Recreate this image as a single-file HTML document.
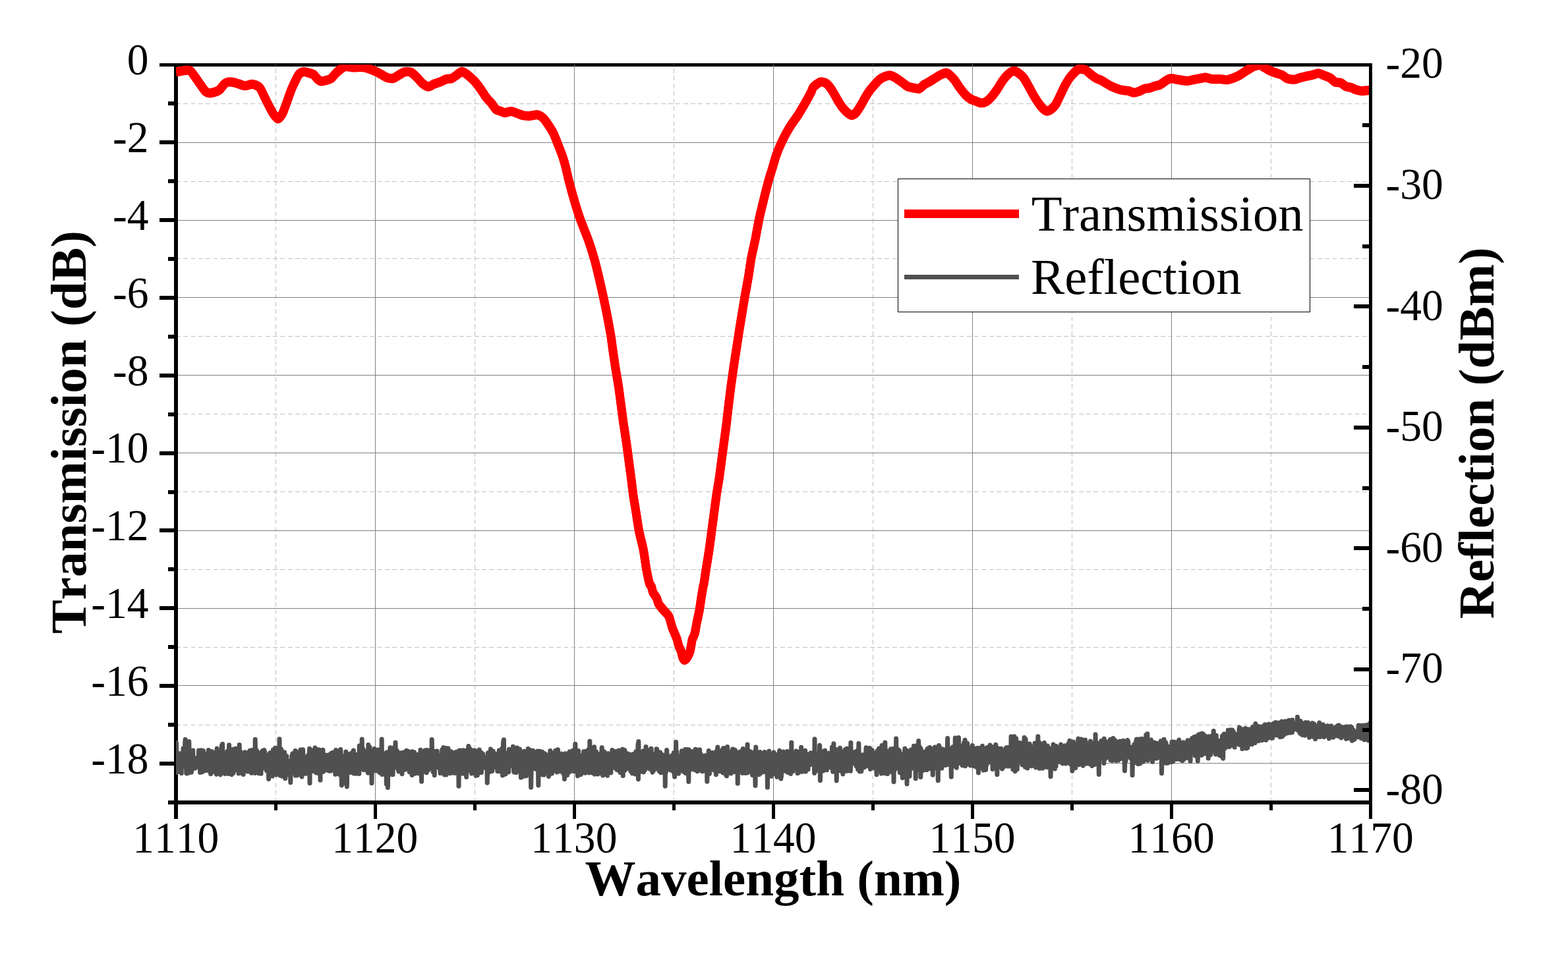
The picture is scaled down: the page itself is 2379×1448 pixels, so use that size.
<!DOCTYPE html>
<html lang="en"><head><meta charset="utf-8"><title>Transmission and Reflection vs Wavelength</title>
<style>html,body{margin:0;padding:0;background:#fff;}body{width:2379px;height:1448px;overflow:hidden;}svg{display:block;}text{font-family:"Liberation Serif","DejaVu Serif",serif;fill:#000;font-kerning:none;}.tk{font-size:66.67px;}.ttl{font-size:77px;font-weight:bold;}.lg{font-size:77px;}</style></head><body>
<svg width="2379" height="1448" viewBox="0 0 2379 1448" role="img" aria-label="Transmission (dB) and Reflection (dBm) versus Wavelength (nm)">
<rect x="0" y="0" width="2379" height="1448" fill="#ffffff"/>
<g fill="#000" shape-rendering="crispEdges">
<rect x="242" y="96" width="1840" height="5"/>
<rect x="264" y="96" width="6" height="1147"/>
<rect x="255" y="1215" width="1827" height="6"/>
<rect x="255" y="154" width="10" height="6"/>
<rect x="242" y="213" width="23" height="6"/>
<rect x="255" y="272" width="10" height="6"/>
<rect x="242" y="331" width="23" height="6"/>
<rect x="255" y="390" width="10" height="6"/>
<rect x="242" y="449" width="23" height="6"/>
<rect x="255" y="508" width="10" height="6"/>
<rect x="242" y="567" width="23" height="6"/>
<rect x="255" y="626" width="10" height="6"/>
<rect x="242" y="685" width="23" height="6"/>
<rect x="255" y="744" width="10" height="6"/>
<rect x="242" y="802" width="23" height="6"/>
<rect x="255" y="861" width="10" height="6"/>
<rect x="242" y="920" width="23" height="6"/>
<rect x="255" y="979" width="10" height="6"/>
<rect x="242" y="1038" width="23" height="6"/>
<rect x="255" y="1097" width="10" height="6"/>
<rect x="242" y="1156" width="23" height="6"/>
<rect x="416" y="1220" width="5" height="10"/>
<rect x="567" y="1220" width="5" height="23"/>
<rect x="718" y="1220" width="5" height="10"/>
<rect x="869" y="1220" width="5" height="23"/>
<rect x="1020" y="1220" width="5" height="10"/>
<rect x="1171" y="1220" width="5" height="23"/>
<rect x="1322" y="1220" width="5" height="10"/>
<rect x="1473" y="1220" width="5" height="23"/>
<rect x="1624" y="1220" width="5" height="10"/>
<rect x="1775" y="1220" width="5" height="23"/>
<rect x="1926" y="1220" width="5" height="10"/>
</g>
<g shape-rendering="crispEdges" fill="none">
<line x1="418.5" y1="98" x2="418.5" y2="1215" stroke="#c0c0c0" stroke-width="1" stroke-dasharray="6.8 4.61" stroke-dashoffset="5.35"/>
<line x1="569.5" y1="98" x2="569.5" y2="1215" stroke="#808080" stroke-width="1"/>
<line x1="720.5" y1="98" x2="720.5" y2="1215" stroke="#c0c0c0" stroke-width="1" stroke-dasharray="6.8 4.61" stroke-dashoffset="5.35"/>
<line x1="871.5" y1="98" x2="871.5" y2="1215" stroke="#808080" stroke-width="1"/>
<line x1="1022.5" y1="98" x2="1022.5" y2="1215" stroke="#c0c0c0" stroke-width="1" stroke-dasharray="6.8 4.61" stroke-dashoffset="5.35"/>
<line x1="1173.5" y1="98" x2="1173.5" y2="1215" stroke="#808080" stroke-width="1"/>
<line x1="1324.5" y1="98" x2="1324.5" y2="1215" stroke="#c0c0c0" stroke-width="1" stroke-dasharray="6.8 4.61" stroke-dashoffset="5.35"/>
<line x1="1475.5" y1="98" x2="1475.5" y2="1215" stroke="#808080" stroke-width="1"/>
<line x1="1626.5" y1="98" x2="1626.5" y2="1215" stroke="#c0c0c0" stroke-width="1" stroke-dasharray="6.8 4.61" stroke-dashoffset="5.35"/>
<line x1="1777.5" y1="98" x2="1777.5" y2="1215" stroke="#808080" stroke-width="1"/>
<line x1="1928.5" y1="98" x2="1928.5" y2="1215" stroke="#c0c0c0" stroke-width="1" stroke-dasharray="6.8 4.61" stroke-dashoffset="5.35"/>
<line x1="270" y1="157.5" x2="2077" y2="157.5" stroke="#c0c0c0" stroke-width="1" stroke-dasharray="6.8 4.52" stroke-dashoffset="3"/>
<line x1="270" y1="216.5" x2="2077" y2="216.5" stroke="#808080" stroke-width="1"/>
<line x1="270" y1="275.5" x2="2077" y2="275.5" stroke="#c0c0c0" stroke-width="1" stroke-dasharray="6.8 4.52" stroke-dashoffset="3"/>
<line x1="270" y1="334.5" x2="2077" y2="334.5" stroke="#808080" stroke-width="1"/>
<line x1="270" y1="392.5" x2="2077" y2="392.5" stroke="#c0c0c0" stroke-width="1" stroke-dasharray="6.8 4.52" stroke-dashoffset="3"/>
<line x1="270" y1="451.5" x2="2077" y2="451.5" stroke="#808080" stroke-width="1"/>
<line x1="270" y1="510.5" x2="2077" y2="510.5" stroke="#c0c0c0" stroke-width="1" stroke-dasharray="6.8 4.52" stroke-dashoffset="3"/>
<line x1="270" y1="569.5" x2="2077" y2="569.5" stroke="#808080" stroke-width="1"/>
<line x1="270" y1="628.5" x2="2077" y2="628.5" stroke="#c0c0c0" stroke-width="1" stroke-dasharray="6.8 4.52" stroke-dashoffset="3"/>
<line x1="270" y1="687.5" x2="2077" y2="687.5" stroke="#808080" stroke-width="1"/>
<line x1="270" y1="746.5" x2="2077" y2="746.5" stroke="#c0c0c0" stroke-width="1" stroke-dasharray="6.8 4.52" stroke-dashoffset="3"/>
<line x1="270" y1="805.5" x2="2077" y2="805.5" stroke="#808080" stroke-width="1"/>
<line x1="270" y1="864.5" x2="2077" y2="864.5" stroke="#c0c0c0" stroke-width="1" stroke-dasharray="6.8 4.52" stroke-dashoffset="3"/>
<line x1="270" y1="923.5" x2="2077" y2="923.5" stroke="#808080" stroke-width="1"/>
<line x1="270" y1="982.5" x2="2077" y2="982.5" stroke="#c0c0c0" stroke-width="1" stroke-dasharray="6.8 4.52" stroke-dashoffset="3"/>
<line x1="270" y1="1040.5" x2="2077" y2="1040.5" stroke="#808080" stroke-width="1"/>
<line x1="270" y1="1100.5" x2="2077" y2="1100.5" stroke="#c0c0c0" stroke-width="1" stroke-dasharray="6.8 4.52" stroke-dashoffset="3"/>
<line x1="270" y1="1158.5" x2="2077" y2="1158.5" stroke="#808080" stroke-width="1"/>
</g>
<svg x="267" y="98" width="1810" height="1120" viewBox="267 98 1810 1120" overflow="hidden"><g fill="none" stroke-linejoin="round" stroke-linecap="butt">
<path d="M267 109.23C268.07 109.04 274.31 107.91 276.16 107.61C278.02 107.31 281.32 106.59 282.9 106.67C284.47 106.75 287.59 106.37 289.63 108.28C291.67 110.2 297.89 119.61 300.4 123.1C302.92 126.59 309.14 136.06 311.18 138.18C313.22 140.3 316.18 141.11 317.91 141.28C319.64 141.45 324.26 140.21 325.99 139.66C327.72 139.11 331 138.03 332.73 136.57C334.46 135.1 339.24 128.55 340.81 127.14C342.38 125.72 344.62 124.7 346.2 124.44C347.77 124.19 352.39 124.64 354.28 124.98C356.16 125.33 360.31 126.79 362.36 127.41C364.4 128.02 369.58 130.17 371.78 130.24C373.98 130.3 379.33 128.07 381.21 127.95C383.1 127.82 386.37 128.47 387.95 129.16C389.52 129.85 393.11 131.75 394.68 133.87C396.25 135.99 399.84 144.2 401.41 147.34C402.99 150.48 406.58 157.82 408.15 160.81C409.72 163.79 413.31 170.65 414.88 172.93C416.45 175.21 420.04 180.34 421.62 180.34C423.19 180.34 426.78 175.84 428.35 172.93C429.92 170.02 433.51 159.66 435.08 155.42C436.66 151.18 440.25 140.49 441.82 136.57C443.39 132.64 447.14 124.58 448.55 121.75C449.97 118.92 452.53 113.82 453.94 112.32C455.35 110.83 458.95 109.14 460.67 108.96C462.4 108.77 467.03 110.24 468.75 110.71C470.48 111.18 473.92 111.87 475.49 113C477.06 114.13 480.81 119.19 482.22 120.4C483.64 121.61 486.04 123.21 487.61 123.37C489.18 123.52 493.96 122.25 495.69 121.75C497.42 121.25 500.85 120.24 502.42 119.06C504 117.88 507.59 113.22 509.16 111.65C510.73 110.08 514.16 106.85 515.89 105.59C517.62 104.33 521.62 101.24 523.97 100.88C526.33 100.51 533.42 102.38 536.09 102.49C538.77 102.6 544.51 101.74 546.87 101.82C549.23 101.9 553.66 102.41 556.3 103.16C558.93 103.92 566.95 107.21 569.43 108.28C571.9 109.35 575.47 111.22 577.51 112.32C579.55 113.42 584.74 116.94 586.94 117.71C589.14 118.48 594.32 119.32 596.36 118.92C598.41 118.53 602.4 115.47 604.44 114.34C606.49 113.21 611.67 109.78 613.87 109.23C616.07 108.68 621.1 108.64 623.3 109.63C625.5 110.62 630.68 115.75 632.73 117.71C634.77 119.67 638.77 124.83 640.81 126.46C642.85 128.1 648.19 131.58 650.24 131.72C652.28 131.86 656.27 128.53 658.32 127.68C660.36 126.83 665.54 125.32 667.74 124.44C669.94 123.56 675.13 120.76 677.17 120.13C679.21 119.51 683.37 119.81 685.25 119.06C687.14 118.3 691.53 114.9 693.33 113.67C695.14 112.44 699.01 108.66 700.74 108.55C702.47 108.44 706.34 111.42 708.15 112.73C709.96 114.03 714.66 118.29 716.23 119.73C717.8 121.18 720.04 123.23 721.62 125.12C723.19 127 727.81 133.22 729.7 135.89C731.58 138.56 735.89 145.55 737.78 148.01C739.66 150.48 744.13 154.92 745.86 157.04C747.59 159.16 751.02 164.84 752.59 166.2C754.16 167.55 757.76 168.04 759.33 168.62C760.9 169.2 764.18 171.13 766.06 171.18C767.95 171.23 773.29 168.91 775.49 169.02C777.69 169.13 782.87 171.41 784.92 172.12C786.96 172.83 790.95 174.63 793 175.08C795.04 175.54 800.38 176.07 802.42 176.03C804.47 175.98 808.93 174.88 810.51 174.68C812.08 174.48 814.32 173.77 815.89 174.28C817.46 174.78 822.09 177.18 823.97 178.99C825.86 180.8 830.17 186.94 832.05 189.76C833.94 192.59 838.41 199.7 840.13 203.23C841.86 206.77 845.3 216.06 846.87 220.07C848.44 224.07 852.23 233.51 853.6 237.58C854.97 241.64 857.49 250.6 858.61 254.92C859.72 259.24 861.58 268.55 863.15 274.6C864.72 280.65 870.01 299.93 872.04 306.78C874.08 313.62 878.2 326.65 880.56 333.27C882.92 339.89 889.87 356.71 892.29 363.55C894.72 370.39 899.48 385.31 901.38 391.94C903.28 398.56 906.94 413.48 908.57 420.33C910.2 427.17 913.95 443.98 915.38 450.61C916.82 457.23 919.52 470.15 920.87 477.1C922.22 484.06 925.93 504.24 926.93 510.22C927.92 516.2 928.61 522.96 929.39 528.39C930.16 533.82 932.51 550.15 933.55 556.78C934.59 563.4 937.29 578.54 938.28 585.16C939.28 591.79 941.18 606.93 942.07 613.55C942.95 620.17 944.9 635.31 945.85 641.94C946.8 648.56 949.25 663.7 950.2 670.33C951.15 676.95 953.11 692.09 953.99 698.71C954.87 705.34 956.98 720.92 957.77 727.1C958.57 733.28 959.94 745.72 960.8 751.7C961.66 757.69 964.12 771.96 965.16 778.39C966.19 784.81 968.39 800.15 969.7 806.78C971 813.4 975.04 828.54 976.32 835.16C977.6 841.79 979.59 857.59 980.67 863.55C981.76 869.51 984.71 883.17 985.59 886.26C986.48 889.35 987.69 888.52 988.29 890C988.88 891.48 989.77 896.88 990.71 898.98C991.65 901.08 995.34 905.86 996.37 907.96C997.4 910.06 998.31 914.84 999.51 916.94C1000.72 919.03 1004.95 923.82 1006.7 925.92C1008.44 928.01 1013.25 932.8 1014.51 934.9C1015.77 936.99 1016.83 941.78 1017.47 943.88C1018.11 945.97 1019.25 950.76 1019.99 952.86C1020.72 954.95 1022.9 959.74 1023.76 961.84C1024.62 963.93 1026.67 968.72 1027.35 970.82C1028.03 972.91 1028.88 977.7 1029.59 979.8C1030.31 981.89 1032.74 986.68 1033.46 988.78C1034.17 990.87 1035.1 996.23 1035.7 997.76C1036.3 999.29 1037.75 1001.89 1038.57 1001.89C1039.4 1001.89 1041.83 999.29 1042.79 997.76C1043.76 996.23 1046.15 990.87 1046.84 988.78C1047.52 986.68 1048.23 981.89 1048.63 979.8C1049.03 977.7 1049.62 972.91 1050.25 970.82C1050.88 968.72 1053.18 964.98 1054.02 961.84C1054.86 958.7 1056.59 948.07 1057.43 943.88C1058.27 939.69 1060.45 930.11 1061.2 925.92C1061.96 921.73 1063.24 912.15 1063.9 907.96C1064.56 903.77 1066.39 892.53 1066.86 890C1067.33 887.47 1067.4 889.35 1067.92 886.26C1068.44 883.17 1070.4 869.51 1071.32 863.55C1072.25 857.59 1074.9 841.79 1075.87 835.16C1076.84 828.54 1078.77 813.4 1079.65 806.78C1080.53 800.15 1082.55 785.01 1083.44 778.39C1084.32 771.76 1086.34 755.98 1087.22 750C1088.1 744.02 1090.12 733.08 1091.01 727.1C1091.89 721.12 1093.91 705.34 1094.79 698.71C1095.67 692.09 1097.69 676.95 1098.58 670.33C1099.46 663.7 1101.54 648.56 1102.36 641.94C1103.18 635.31 1104.78 620.17 1105.58 613.55C1106.37 606.93 1108.29 591.79 1109.17 585.16C1110.06 578.54 1112.18 563.4 1113.15 556.78C1114.12 550.15 1116.49 535.01 1117.5 528.39C1118.52 521.76 1120.91 505.98 1121.85 500C1122.8 494.02 1124.69 482.86 1125.64 477.1C1126.59 471.34 1128.84 457.23 1129.99 450.61C1131.14 443.98 1134.33 427.17 1135.48 420.33C1136.63 413.48 1138.62 398.56 1139.83 391.94C1141.05 385.31 1144.52 370.39 1145.89 363.55C1147.26 356.71 1150.18 339.89 1151.57 333.27C1152.96 326.65 1156.13 313.62 1157.81 306.78C1159.49 299.93 1164.3 280.63 1165.95 274.6C1167.6 268.57 1170.52 259.72 1171.92 255.08C1173.32 250.45 1176.28 239.6 1177.98 234.88C1179.68 230.17 1184.22 219.39 1186.46 214.68C1188.71 209.97 1194.38 199.19 1197.24 194.48C1200.1 189.76 1208.2 178.6 1210.98 174.28C1213.76 169.96 1218.83 161.37 1221.08 157.44C1223.32 153.51 1228.7 143.59 1230.24 140.61C1231.78 137.62 1232.55 133.75 1234.28 131.85C1236 129.95 1242.69 124.86 1245.05 124.31C1247.41 123.76 1252.59 125.87 1254.48 127.14C1256.36 128.41 1259.64 132.94 1261.21 135.22C1262.78 137.5 1266.37 144 1267.95 146.67C1269.52 149.34 1273.11 155.76 1274.68 158.11C1276.25 160.47 1279.84 165.14 1281.41 166.87C1282.99 168.6 1286.89 171.97 1288.15 172.93C1289.41 173.89 1290.93 175.32 1292.19 175.08C1293.45 174.85 1297.35 172.57 1298.92 170.91C1300.49 169.24 1304.09 163.4 1305.66 160.81C1307.23 158.22 1310.82 151.36 1312.39 148.69C1313.96 146.02 1317.55 140.11 1319.12 137.91C1320.7 135.71 1324.13 131.8 1325.86 129.83C1327.59 127.87 1332.05 122.65 1333.94 121.08C1335.82 119.51 1340.13 117.15 1342.02 116.36C1343.91 115.58 1348.22 114.19 1350.1 114.34C1351.99 114.5 1355.98 116.45 1358.18 117.71C1360.38 118.97 1366.76 123.55 1368.96 125.12C1371.16 126.69 1374.99 130.2 1377.04 131.18C1379.08 132.15 1384.42 133.04 1386.46 133.47C1388.51 133.89 1392.66 135.44 1394.55 134.81C1396.43 134.19 1400.74 129.37 1402.63 128.08C1404.51 126.79 1408.98 124.78 1410.71 123.77C1412.44 122.77 1415.56 120.64 1417.44 119.46C1419.33 118.28 1424.75 114.71 1426.87 113.67C1428.99 112.63 1434.09 110.65 1435.62 110.57C1437.15 110.49 1438.55 111.77 1440 113C1441.45 114.22 1446.2 118.72 1448.08 121.08C1449.97 123.43 1454.28 130.61 1456.16 133.2C1458.05 135.79 1462.36 141.34 1464.24 143.3C1466.13 145.26 1470.44 148.86 1472.32 150.03C1474.21 151.21 1478.52 152.68 1480.4 153.4C1482.29 154.12 1486.6 156.15 1488.48 156.23C1490.37 156.31 1494.68 155.19 1496.57 154.07C1498.45 152.96 1502.76 148.79 1504.65 146.67C1506.53 144.55 1510.84 138.64 1512.73 135.89C1514.61 133.14 1518.92 125.72 1520.81 123.1C1522.69 120.47 1526.92 115.19 1528.89 113.4C1530.85 111.61 1535.76 108.06 1537.64 107.74C1539.53 107.43 1543.24 109.5 1545.05 110.71C1546.86 111.92 1551.25 115.65 1553.13 118.11C1555.02 120.58 1559.33 128.52 1561.21 131.85C1563.1 135.18 1567.41 143.52 1569.29 146.67C1571.18 149.81 1575.8 156.64 1577.37 158.79C1578.95 160.94 1581.5 163.97 1582.76 165.12C1584.02 166.26 1586.73 168.54 1588.15 168.62C1589.56 168.7 1593.31 166.94 1594.88 165.79C1596.45 164.64 1600.04 161.18 1601.62 158.79C1603.19 156.4 1606.78 148.54 1608.35 145.32C1609.92 142.1 1613.51 134.16 1615.08 131.18C1616.66 128.19 1620.25 122.01 1621.82 119.73C1623.39 117.45 1626.98 113.3 1628.55 111.65C1630.12 110 1633.87 106.37 1635.29 105.59C1636.7 104.8 1639.26 104.81 1640.67 104.92C1642.09 105.03 1645.68 105.56 1647.41 106.53C1649.14 107.51 1653.6 111.8 1655.49 113.27C1657.37 114.73 1661.68 118 1663.57 119.06C1665.45 120.11 1669.76 121.32 1671.65 122.29C1673.54 123.26 1677.85 126.29 1679.73 127.41C1681.62 128.52 1685.93 130.97 1687.81 131.85C1689.7 132.73 1694.01 134.34 1695.89 134.95C1697.78 135.56 1702.09 136.76 1703.97 137.1C1705.86 137.45 1710.17 137.5 1712.05 137.91C1713.94 138.32 1718.25 140.53 1720.13 140.61C1722.02 140.68 1726.33 139.28 1728.22 138.59C1730.1 137.89 1734.41 135.28 1736.3 134.68C1738.18 134.08 1742.49 133.94 1744.38 133.47C1746.26 133 1750.64 131.19 1752.46 130.64C1754.28 130.09 1757.95 129.79 1760 128.75C1762.05 127.72 1768.05 122.88 1770 121.75C1771.95 120.62 1774.85 119.18 1776.73 119.06C1778.62 118.93 1783.33 120.23 1786.16 120.67C1788.99 121.11 1798.15 122.78 1800.98 122.83C1803.8 122.88 1808.05 121.52 1810.4 121.08C1812.76 120.64 1818.98 119.47 1821.18 119.06C1823.38 118.65 1827.22 117.47 1829.26 117.58C1831.3 117.69 1836.17 119.72 1838.69 120C1841.2 120.28 1848.14 119.86 1850.81 120C1853.48 120.14 1859.07 121.45 1861.58 121.21C1864.1 120.98 1870.16 118.78 1872.36 117.98C1874.56 117.18 1878.24 115.6 1880.44 114.34C1882.64 113.09 1888.7 108.78 1891.21 107.21C1893.73 105.63 1899.63 101.85 1901.99 100.88C1904.34 99.9 1909.53 98.7 1911.41 98.86C1913.3 99.01 1916.42 101.28 1918.15 102.22C1919.88 103.16 1924.19 105.95 1926.23 106.94C1928.27 107.93 1933.46 109.89 1935.66 110.71C1937.86 111.52 1943.04 112.93 1945.08 113.94C1947.13 114.95 1950.97 118.54 1953.16 119.33C1955.36 120.11 1961.74 120.81 1963.94 120.67C1966.14 120.53 1969.98 118.68 1972.02 118.11C1974.06 117.55 1979.25 116.31 1981.45 115.82C1983.65 115.34 1988.68 114.47 1990.88 113.94C1993.08 113.41 1998.26 111.2 2000.3 111.25C2002.35 111.29 2006.34 113.56 2008.38 114.34C2010.43 115.13 2015.77 116.77 2017.81 117.98C2019.85 119.19 2024.01 123.82 2025.89 124.71C2027.78 125.61 2032.09 124.9 2033.97 125.66C2035.86 126.41 2040.17 130.31 2042.05 131.18C2043.94 132.04 2048.25 132.44 2050.13 133.06C2052.02 133.69 2056.33 135.98 2058.22 136.57C2060.1 137.15 2064.1 138 2066.3 138.05C2068.5 138.09 2075.19 137.1 2077.07 136.97C2078.96 136.84 2081.83 136.97 2082.46 136.97" stroke="#ff0000" stroke-width="13" transform="translate(0 -0.6)"/>
<path d="M267 109.23C268.07 109.04 274.31 107.91 276.16 107.61C278.02 107.31 281.32 106.59 282.9 106.67C284.47 106.75 287.59 106.37 289.63 108.28C291.67 110.2 297.89 119.61 300.4 123.1C302.92 126.59 309.14 136.06 311.18 138.18C313.22 140.3 316.18 141.11 317.91 141.28C319.64 141.45 324.26 140.21 325.99 139.66C327.72 139.11 331 138.03 332.73 136.57C334.46 135.1 339.24 128.55 340.81 127.14C342.38 125.72 344.62 124.7 346.2 124.44C347.77 124.19 352.39 124.64 354.28 124.98C356.16 125.33 360.31 126.79 362.36 127.41C364.4 128.02 369.58 130.17 371.78 130.24C373.98 130.3 379.33 128.07 381.21 127.95C383.1 127.82 386.37 128.47 387.95 129.16C389.52 129.85 393.11 131.75 394.68 133.87C396.25 135.99 399.84 144.2 401.41 147.34C402.99 150.48 406.58 157.82 408.15 160.81C409.72 163.79 413.31 170.65 414.88 172.93C416.45 175.21 420.04 180.34 421.62 180.34C423.19 180.34 426.78 175.84 428.35 172.93C429.92 170.02 433.51 159.66 435.08 155.42C436.66 151.18 440.25 140.49 441.82 136.57C443.39 132.64 447.14 124.58 448.55 121.75C449.97 118.92 452.53 113.82 453.94 112.32C455.35 110.83 458.95 109.14 460.67 108.96C462.4 108.77 467.03 110.24 468.75 110.71C470.48 111.18 473.92 111.87 475.49 113C477.06 114.13 480.81 119.19 482.22 120.4C483.64 121.61 486.04 123.21 487.61 123.37C489.18 123.52 493.96 122.25 495.69 121.75C497.42 121.25 500.85 120.24 502.42 119.06C504 117.88 507.59 113.22 509.16 111.65C510.73 110.08 514.16 106.85 515.89 105.59C517.62 104.33 521.62 101.24 523.97 100.88C526.33 100.51 533.42 102.38 536.09 102.49C538.77 102.6 544.51 101.74 546.87 101.82C549.23 101.9 553.66 102.41 556.3 103.16C558.93 103.92 566.95 107.21 569.43 108.28C571.9 109.35 575.47 111.22 577.51 112.32C579.55 113.42 584.74 116.94 586.94 117.71C589.14 118.48 594.32 119.32 596.36 118.92C598.41 118.53 602.4 115.47 604.44 114.34C606.49 113.21 611.67 109.78 613.87 109.23C616.07 108.68 621.1 108.64 623.3 109.63C625.5 110.62 630.68 115.75 632.73 117.71C634.77 119.67 638.77 124.83 640.81 126.46C642.85 128.1 648.19 131.58 650.24 131.72C652.28 131.86 656.27 128.53 658.32 127.68C660.36 126.83 665.54 125.32 667.74 124.44C669.94 123.56 675.13 120.76 677.17 120.13C679.21 119.51 683.37 119.81 685.25 119.06C687.14 118.3 691.53 114.9 693.33 113.67C695.14 112.44 699.01 108.66 700.74 108.55C702.47 108.44 706.34 111.42 708.15 112.73C709.96 114.03 714.66 118.29 716.23 119.73C717.8 121.18 720.04 123.23 721.62 125.12C723.19 127 727.81 133.22 729.7 135.89C731.58 138.56 735.89 145.55 737.78 148.01C739.66 150.48 744.13 154.92 745.86 157.04C747.59 159.16 751.02 164.84 752.59 166.2C754.16 167.55 757.76 168.04 759.33 168.62C760.9 169.2 764.18 171.13 766.06 171.18C767.95 171.23 773.29 168.91 775.49 169.02C777.69 169.13 782.87 171.41 784.92 172.12C786.96 172.83 790.95 174.63 793 175.08C795.04 175.54 800.38 176.07 802.42 176.03C804.47 175.98 808.93 174.88 810.51 174.68C812.08 174.48 814.32 173.77 815.89 174.28C817.46 174.78 822.09 177.18 823.97 178.99C825.86 180.8 830.17 186.94 832.05 189.76C833.94 192.59 838.41 199.7 840.13 203.23C841.86 206.77 845.3 216.06 846.87 220.07C848.44 224.07 852.23 233.51 853.6 237.58C854.97 241.64 857.49 250.6 858.61 254.92C859.72 259.24 861.58 268.55 863.15 274.6C864.72 280.65 870.01 299.93 872.04 306.78C874.08 313.62 878.2 326.65 880.56 333.27C882.92 339.89 889.87 356.71 892.29 363.55C894.72 370.39 899.48 385.31 901.38 391.94C903.28 398.56 906.94 413.48 908.57 420.33C910.2 427.17 913.95 443.98 915.38 450.61C916.82 457.23 919.52 470.15 920.87 477.1C922.22 484.06 925.93 504.24 926.93 510.22C927.92 516.2 928.61 522.96 929.39 528.39C930.16 533.82 932.51 550.15 933.55 556.78C934.59 563.4 937.29 578.54 938.28 585.16C939.28 591.79 941.18 606.93 942.07 613.55C942.95 620.17 944.9 635.31 945.85 641.94C946.8 648.56 949.25 663.7 950.2 670.33C951.15 676.95 953.11 692.09 953.99 698.71C954.87 705.34 956.98 720.92 957.77 727.1C958.57 733.28 959.94 745.72 960.8 751.7C961.66 757.69 964.12 771.96 965.16 778.39C966.19 784.81 968.39 800.15 969.7 806.78C971 813.4 975.04 828.54 976.32 835.16C977.6 841.79 979.59 857.59 980.67 863.55C981.76 869.51 984.71 883.17 985.59 886.26C986.48 889.35 987.69 888.52 988.29 890C988.88 891.48 989.77 896.88 990.71 898.98C991.65 901.08 995.34 905.86 996.37 907.96C997.4 910.06 998.31 914.84 999.51 916.94C1000.72 919.03 1004.95 923.82 1006.7 925.92C1008.44 928.01 1013.25 932.8 1014.51 934.9C1015.77 936.99 1016.83 941.78 1017.47 943.88C1018.11 945.97 1019.25 950.76 1019.99 952.86C1020.72 954.95 1022.9 959.74 1023.76 961.84C1024.62 963.93 1026.67 968.72 1027.35 970.82C1028.03 972.91 1028.88 977.7 1029.59 979.8C1030.31 981.89 1032.74 986.68 1033.46 988.78C1034.17 990.87 1035.1 996.23 1035.7 997.76C1036.3 999.29 1037.75 1001.89 1038.57 1001.89C1039.4 1001.89 1041.83 999.29 1042.79 997.76C1043.76 996.23 1046.15 990.87 1046.84 988.78C1047.52 986.68 1048.23 981.89 1048.63 979.8C1049.03 977.7 1049.62 972.91 1050.25 970.82C1050.88 968.72 1053.18 964.98 1054.02 961.84C1054.86 958.7 1056.59 948.07 1057.43 943.88C1058.27 939.69 1060.45 930.11 1061.2 925.92C1061.96 921.73 1063.24 912.15 1063.9 907.96C1064.56 903.77 1066.39 892.53 1066.86 890C1067.33 887.47 1067.4 889.35 1067.92 886.26C1068.44 883.17 1070.4 869.51 1071.32 863.55C1072.25 857.59 1074.9 841.79 1075.87 835.16C1076.84 828.54 1078.77 813.4 1079.65 806.78C1080.53 800.15 1082.55 785.01 1083.44 778.39C1084.32 771.76 1086.34 755.98 1087.22 750C1088.1 744.02 1090.12 733.08 1091.01 727.1C1091.89 721.12 1093.91 705.34 1094.79 698.71C1095.67 692.09 1097.69 676.95 1098.58 670.33C1099.46 663.7 1101.54 648.56 1102.36 641.94C1103.18 635.31 1104.78 620.17 1105.58 613.55C1106.37 606.93 1108.29 591.79 1109.17 585.16C1110.06 578.54 1112.18 563.4 1113.15 556.78C1114.12 550.15 1116.49 535.01 1117.5 528.39C1118.52 521.76 1120.91 505.98 1121.85 500C1122.8 494.02 1124.69 482.86 1125.64 477.1C1126.59 471.34 1128.84 457.23 1129.99 450.61C1131.14 443.98 1134.33 427.17 1135.48 420.33C1136.63 413.48 1138.62 398.56 1139.83 391.94C1141.05 385.31 1144.52 370.39 1145.89 363.55C1147.26 356.71 1150.18 339.89 1151.57 333.27C1152.96 326.65 1156.13 313.62 1157.81 306.78C1159.49 299.93 1164.3 280.63 1165.95 274.6C1167.6 268.57 1170.52 259.72 1171.92 255.08C1173.32 250.45 1176.28 239.6 1177.98 234.88C1179.68 230.17 1184.22 219.39 1186.46 214.68C1188.71 209.97 1194.38 199.19 1197.24 194.48C1200.1 189.76 1208.2 178.6 1210.98 174.28C1213.76 169.96 1218.83 161.37 1221.08 157.44C1223.32 153.51 1228.7 143.59 1230.24 140.61C1231.78 137.62 1232.55 133.75 1234.28 131.85C1236 129.95 1242.69 124.86 1245.05 124.31C1247.41 123.76 1252.59 125.87 1254.48 127.14C1256.36 128.41 1259.64 132.94 1261.21 135.22C1262.78 137.5 1266.37 144 1267.95 146.67C1269.52 149.34 1273.11 155.76 1274.68 158.11C1276.25 160.47 1279.84 165.14 1281.41 166.87C1282.99 168.6 1286.89 171.97 1288.15 172.93C1289.41 173.89 1290.93 175.32 1292.19 175.08C1293.45 174.85 1297.35 172.57 1298.92 170.91C1300.49 169.24 1304.09 163.4 1305.66 160.81C1307.23 158.22 1310.82 151.36 1312.39 148.69C1313.96 146.02 1317.55 140.11 1319.12 137.91C1320.7 135.71 1324.13 131.8 1325.86 129.83C1327.59 127.87 1332.05 122.65 1333.94 121.08C1335.82 119.51 1340.13 117.15 1342.02 116.36C1343.91 115.58 1348.22 114.19 1350.1 114.34C1351.99 114.5 1355.98 116.45 1358.18 117.71C1360.38 118.97 1366.76 123.55 1368.96 125.12C1371.16 126.69 1374.99 130.2 1377.04 131.18C1379.08 132.15 1384.42 133.04 1386.46 133.47C1388.51 133.89 1392.66 135.44 1394.55 134.81C1396.43 134.19 1400.74 129.37 1402.63 128.08C1404.51 126.79 1408.98 124.78 1410.71 123.77C1412.44 122.77 1415.56 120.64 1417.44 119.46C1419.33 118.28 1424.75 114.71 1426.87 113.67C1428.99 112.63 1434.09 110.65 1435.62 110.57C1437.15 110.49 1438.55 111.77 1440 113C1441.45 114.22 1446.2 118.72 1448.08 121.08C1449.97 123.43 1454.28 130.61 1456.16 133.2C1458.05 135.79 1462.36 141.34 1464.24 143.3C1466.13 145.26 1470.44 148.86 1472.32 150.03C1474.21 151.21 1478.52 152.68 1480.4 153.4C1482.29 154.12 1486.6 156.15 1488.48 156.23C1490.37 156.31 1494.68 155.19 1496.57 154.07C1498.45 152.96 1502.76 148.79 1504.65 146.67C1506.53 144.55 1510.84 138.64 1512.73 135.89C1514.61 133.14 1518.92 125.72 1520.81 123.1C1522.69 120.47 1526.92 115.19 1528.89 113.4C1530.85 111.61 1535.76 108.06 1537.64 107.74C1539.53 107.43 1543.24 109.5 1545.05 110.71C1546.86 111.92 1551.25 115.65 1553.13 118.11C1555.02 120.58 1559.33 128.52 1561.21 131.85C1563.1 135.18 1567.41 143.52 1569.29 146.67C1571.18 149.81 1575.8 156.64 1577.37 158.79C1578.95 160.94 1581.5 163.97 1582.76 165.12C1584.02 166.26 1586.73 168.54 1588.15 168.62C1589.56 168.7 1593.31 166.94 1594.88 165.79C1596.45 164.64 1600.04 161.18 1601.62 158.79C1603.19 156.4 1606.78 148.54 1608.35 145.32C1609.92 142.1 1613.51 134.16 1615.08 131.18C1616.66 128.19 1620.25 122.01 1621.82 119.73C1623.39 117.45 1626.98 113.3 1628.55 111.65C1630.12 110 1633.87 106.37 1635.29 105.59C1636.7 104.8 1639.26 104.81 1640.67 104.92C1642.09 105.03 1645.68 105.56 1647.41 106.53C1649.14 107.51 1653.6 111.8 1655.49 113.27C1657.37 114.73 1661.68 118 1663.57 119.06C1665.45 120.11 1669.76 121.32 1671.65 122.29C1673.54 123.26 1677.85 126.29 1679.73 127.41C1681.62 128.52 1685.93 130.97 1687.81 131.85C1689.7 132.73 1694.01 134.34 1695.89 134.95C1697.78 135.56 1702.09 136.76 1703.97 137.1C1705.86 137.45 1710.17 137.5 1712.05 137.91C1713.94 138.32 1718.25 140.53 1720.13 140.61C1722.02 140.68 1726.33 139.28 1728.22 138.59C1730.1 137.89 1734.41 135.28 1736.3 134.68C1738.18 134.08 1742.49 133.94 1744.38 133.47C1746.26 133 1750.64 131.19 1752.46 130.64C1754.28 130.09 1757.95 129.79 1760 128.75C1762.05 127.72 1768.05 122.88 1770 121.75C1771.95 120.62 1774.85 119.18 1776.73 119.06C1778.62 118.93 1783.33 120.23 1786.16 120.67C1788.99 121.11 1798.15 122.78 1800.98 122.83C1803.8 122.88 1808.05 121.52 1810.4 121.08C1812.76 120.64 1818.98 119.47 1821.18 119.06C1823.38 118.65 1827.22 117.47 1829.26 117.58C1831.3 117.69 1836.17 119.72 1838.69 120C1841.2 120.28 1848.14 119.86 1850.81 120C1853.48 120.14 1859.07 121.45 1861.58 121.21C1864.1 120.98 1870.16 118.78 1872.36 117.98C1874.56 117.18 1878.24 115.6 1880.44 114.34C1882.64 113.09 1888.7 108.78 1891.21 107.21C1893.73 105.63 1899.63 101.85 1901.99 100.88C1904.34 99.9 1909.53 98.7 1911.41 98.86C1913.3 99.01 1916.42 101.28 1918.15 102.22C1919.88 103.16 1924.19 105.95 1926.23 106.94C1928.27 107.93 1933.46 109.89 1935.66 110.71C1937.86 111.52 1943.04 112.93 1945.08 113.94C1947.13 114.95 1950.97 118.54 1953.16 119.33C1955.36 120.11 1961.74 120.81 1963.94 120.67C1966.14 120.53 1969.98 118.68 1972.02 118.11C1974.06 117.55 1979.25 116.31 1981.45 115.82C1983.65 115.34 1988.68 114.47 1990.88 113.94C1993.08 113.41 1998.26 111.2 2000.3 111.25C2002.35 111.29 2006.34 113.56 2008.38 114.34C2010.43 115.13 2015.77 116.77 2017.81 117.98C2019.85 119.19 2024.01 123.82 2025.89 124.71C2027.78 125.61 2032.09 124.9 2033.97 125.66C2035.86 126.41 2040.17 130.31 2042.05 131.18C2043.94 132.04 2048.25 132.44 2050.13 133.06C2052.02 133.69 2056.33 135.98 2058.22 136.57C2060.1 137.15 2064.1 138 2066.3 138.05C2068.5 138.09 2075.19 137.1 2077.07 136.97C2078.96 136.84 2081.83 136.97 2082.46 136.97" stroke="#ff0000" stroke-width="13" transform="translate(0 0.6)"/>
<path d="M266 1161.9l.4 9.1 .4-10.1 .4-7 .4-26.4 .4 45.1 .4-10.8 .4 1.5 .4-4.8 .4-7.3 .4-2.7 .4 15 .4-8.5 .4 4 .4-3.5 .4 9 .4 6.6 .4-27.4 .4 11.2 .4-2.5 .4 2.4 .4 4.3 .4-8.6 .4 23.1 .4-28 .4 6.1 .4-3.9 .4 7.9 .4 1.6 .4 3 .4-24.3 .4 9.2 .4 2.7 .4 15 .4-24.3 .4 16.6 .4-10.2 .4-20 .4-2.6 .4 25.2 .4 16.9 .4-10.4 .4 19.6 .4-24.4 .4 24.7 .4-13.2 .4 1.3 .4 .3 .4-20 .4-14.5 .4 45.3 .4-21.2 .4-26.6 .4 26.6 .4-7.2 .4-4.1 .4 12.2 .4-3.3 .4 16 .4-11.7 .4-5.4 .4 23.8 .4-29.8 .4-2.9 .4 18.1 .4 .5 .4-6.8 .4-12.4 .4 16.5 .4-2.9 .4 3.3 .4 .3 .4 5.8 .4-8.2 .4 12.5 .4-7.2 .4-1.5 .4-3.7 .4 5.4 .4-2.9 .4-5.5 .4 12 .4-10.9 .4 11.8 .4-5.9 .4-3.2 .4-5.4 .4 12.1 .4 .4 .4-22.7 .4 12.3 .4 14 .4-9.7 .4 4 .4 12.7 .4-31.4 .4 11.9 .4-7.8 .4 10.2 .4-16.6 .4 8.4 .4 4.7 .4 16.2 .4 3.8 .4-23 .4 6.5 .4-15.9 .4 19.2 .4 1.8 .4-.3 .4 2.9 .4-15.5 .4-3.5 .4 3.5 .4 7.7 .4 14.3 .4-16.9 .4-3.2 .4 10.6 .4-2.5 .4 6.3 .4 5.4 .4-19.2 .4 18 .4-17.3 .4 10.3 .4-22.6 .4 26.6 .4 4.6 .4-12.7 .4-9.8 .4 18.4 .4 .6 .4-1.8 .4 10.4 .4-28.4 .4 23.4 .4-21.6 .4-7.5 .4 28.9 .4-22.8 .4 7.9 .4 16.8 .4-11.6 .4-14 .4 2.7 .4-5.7 .4 20.9 .4-15.4 .4 7.9 .4-5.4 .4 5.8 .4-4 .4 2.8 .4-3.3 .4 3.3 .4 19.9 .4-36.1 .4-3.1 .4 21 .4 8.4 .4-5.6 .4-1.7 .4-7.9 .4-3.8 .4 8.8 .4-8.9 .4-5.4 .4 8.5 .4-.9 .4 26.4 .4 .8 .4-4.8 .4-16.1 .4 .6 .4-2.8 .4-21 .4 16.9 .4-6.5 .4-12.8 .4 35.3 .4-1.9 .4-14.6 .4 .1 .4 21.9 .4-4.5 .4 7.9 .4-16.5 .4 17.4 .4-24.6 .4 .1 .4 11 .4 1.4 .4-8.5 .4 5 .4-8.6 .4 9.7 .4-19.5 .4 14.7 .4-10.4 .4 2.4 .4 27.4 .4-29.2 .4 6.7 .4-21.3 .4 23.4 .4 1.4 .4-9.4 .4-1.8 .4-1 .4 5.3 .4-11.2 .4 22.7 .4 13.4 .4 2.2 .4-1.8 .4-24.1 .4-9.9 .4 1.3 .4 31.7 .4 .5 .4-32.9 .4 27.8 .4-31.4 .4 23.1 .4-1.2 .4 5.6 .4-7.6 .4 11.8 .4-16.3 .4-16 .4 27 .4-4.4 .4-7.2 .4 6.4 .4-20.9 .4 23.9 .4 7.1 .4-14.1 .4 9.6 .4 10.2 .4-8 .4-18.5 .4-17 .4 36.8 .4-18 .4-9.3 .4 12.6 .4 16.1 .4 4.7 .4-15.3 .4-15 .4 16.3 .4 5.8 .4-9.2 .4 10.3 .4 6.5 .4-19.5 .4 22.2 .4-21.5 .4 8 .4-1.3 .4-9 .4-7.1 .4-2.7 .4 24.6 .4-17.3 .4 10.6 .4 6.5 .4-23.5 .4 22.9 .4-2.9 .4-17.9 .4 16.8 .4 1 .4 8.5 .4-1.3 .4-10.6 .4 8.7 .4-3.2 .4-2.3 .4-19.7 .4-3.2 .4 28.7 .4-14.4 .4 13.7 .4-17.7 .4 13.4 .4-3.3 .4 13.4 .4-11.3 .4-23.6 .4 6 .4 25.3 .4-20.5 .4 4.5 .4-5.3 .4 14 .4-8.6 .4 11.1 .4-16 .4-3.8 .4 28.3 .4-51.2 .4 28.1 .4-2.7 .4 4 .4 9.8 .4-22.7 .4 3.4 .4 19.5 .4 10.9 .4-25.7 .4 5.8 .4-3.4 .4 7.9 .4 16.6 .4-17 .4-9.5 .4 16.9 .4 7 .4-12.5 .4-16 .4 12.3 .4-11.1 .4 30.5 .4-15.5 .4 8.9 .4-6.4 .4-15.5 .4-1.1 .4-5.1 .4 3.5 .4-1.8 .4 23.9 .4-6.4 .4-14.1 .4-6.2 .4 12 .4-10 .4 15.7 .4-6.1 .4-1 .4-3.4 .4 5.8 .4 15.7 .4 2.6 .4-9 .4 5.8 .4-18.1 .4 20.2 .4-14.7 .4 3 .4 .5 .4 24.9 .4-13.8 .4 7.2 .4-13.4 .4-19.3 .4-.3 .4 12.7 .4-1.3 .4-4.8 .4 26.1 .4-28.6 .4 21.9 .4-22 .4 23.9 .4 7.4 .4-27.9 .4 .3 .4-12.6 .4 10.8 .4 1.8 .4-13 .4 4.4 .4 .8 .4 21.3 .4 1.7 .4-30.5 .4 9.9 .4-9.3 .4 26.5 .4 13.6 .4-28.7 .4 10.5 .4 17.5 .4-7.4 .4-.4 .4-21.7 .4 18.5 .4 9.7 .4-15.7 .4 .8 .4-1.4 .4-35.8 .4 44.1 .4-19.8 .4 31 .4-27.4 .4 8.7 .4 5.5 .4-26.6 .4 27 .4 11.8 .4 2 .4-27.2 .4-4 .4 9.6 .4 3.1 .4-1.5 .4-4.9 .4 9.8 .4-4.5 .4-16.7 .4 5 .4 3.1 .4 31.7 .4-5.3 .4-13.4 .4 2.5 .4 1.8 .4-19.8 .4 12 .4-2.7 .4 3.5 .4-5.3 .4 13.7 .4-5.7 .4 5.1 .4 7.5 .4-11 .4-8.9 .4 7.8 .4-.1 .4-2.3 .4-3.2 .4 29.8 .4-27.4 .4 6 .4-2.6 .4 7.5 .4-24.1 .4 1.6 .4 12.7 .4-17.6 .4 11.6 .4-2.7 .4 1.5 .4 1.9 .4 8.3 .4 9.4 .4-3.8 .4-13.6 .4 9.1 .4-25.9 .4 37.6 .4-12 .4-11.4 .4 1.7 .4 .5 .4 21 .4-4.1 .4-15 .4 12 .4-27.8 .4 12.8 .4 7.7 .4 3.8 .4 3.5 .4-24.1 .4 19.4 .4-7.1 .4-13.7 .4 21.8 .4-28.2 .4 38.6 .4-28.1 .4 3 .4 3.7 .4 23.8 .4-26.7 .4 6.4 .4-4.6 .4-16.2 .4 11.7 .4 16.9 .4-13.1 .4 18 .4-18.7 .4 8.3 .4-.1 .4 8.9 .4-5.4 .4-2.4 .4 12.4 .4-21.3 .4 11.1 .4 2.7 .4-10 .4-7.9 .4 23.2 .4-8.1 .4-16.9 .4 14.6 .4-1.1 .4-15.2 .4 22.3 .4-13.1 .4-18.3 .4 52.5 .4-36 .4-8.1 .4 5.8 .4-7.3 .4 15.9 .4-11.1 .4 13.6 .4-2.3 .4 4.2 .4-0 .4-12.7 .4-12 .4 26.6 .4 5.1 .4-24.6 .4 5.3 .4-6.2 .4 4.5 .4-6.5 .4-8.1 .4 10.2 .4 20.3 .4-9.7 .4 17.1 .4-19.7 .4 16.8 .4-30.5 .4 3.3 .4 12.3 .4-17.3 .4 35.7 .4-23.2 .4 21.8 .4-19.6 .4-2.7 .4-11.7 .4 10.5 .4 7.8 .4-5.6 .4 33.4 .4-41.5 .4 17.3 .4 3.1 .4-17.7 .4 13.7 .4-17.9 .4 19.9 .4-14.9 .4 25.5 .4-33.3 .4 18.4 .4-9.2 .4 22.8 .4-18.8 .4 9.3 .4-15.3 .4 8.3 .4-2.5 .4 10.6 .4-10.7 .4-3.2 .4 10.7 .4-7.2 .4-4.9 .4 22.3 .4-19.7 .4 6.6 .4 11.2 .4-18.3 .4 10.9 .4-7 .4-6.8 .4 19.9 .4-1.1 .4 5.7 .4-21.3 .4 15.8 .4 2.1 .4 .1 .4 3.1 .4-26.5 .4 8 .4-3 .4 12.5 .4-12.2 .4 5.7 .4-12.4 .4 10.8 .4 12.4 .4-2.3 .4-17.6 .4 10.3 .4 .6 .4 8.8 .4-19.7 .4 16.8 .4 13 .4-19.5 .4-17.3 .4 34.2 .4-23.1 .4 24.4 .4-11.5 .4-6.2 .4-3.3 .4 20.6 .4-20.4 .4-3.3 .4 10.6 .4-3.7 .4 8.7 .4-16.6 .4 26.8 .4-36.7 .4 11.1 .4 8.4 .4-21.1 .4 28.4 .4-5.8 .4-10.2 .4 42.1 .4-17.9 .4-7.5 .4 23.5 .4-30.5 .4-8.7 .4-2.2 .4 13.4 .4-14.3 .4 19.8 .4 9 .4-15.1 .4-14.3 .4 9.3 .4 3.6 .4 17.7 .4-36.8 .4 11.2 .4 1.8 .4 5.3 .4 34.7 .4-34.8 .4-14.3 .4 5.1 .4 17.1 .4-14.2 .4 15.3 .4-17.4 .4 16.4 .4 3.7 .4-18.2 .4-.5 .4 16.7 .4-24.9 .4 28.6 .4-3.8 .4-5 .4-17.6 .4 5.7 .4 20.3 .4-2.1 .4-28 .4 15.1 .4-4.9 .4 1.5 .4-14.8 .4 11.5 .4 23.7 .4-4.4 .4-12.5 .4-7.4 .4 23.1 .4-15.2 .4 11.9 .4-24.1 .4 20.9 .4 7.8 .4-9.4 .4-.2 .4-12.7 .4 1 .4-.8 .4-3.9 .4 9.9 .4-.3 .4-6 .4 22.7 .4-42.5 .4 5.9 .4 19.3 .4-3.9 .4-3.7 .4 7.6 .4 8.3 .4-4.6 .4 .5 .4 4.1 .4-43.6 .4 34.8 .4-4.7 .4-3.4 .4-11.8 .4 14.6 .4 17.1 .4-25.6 .4 18.9 .4-21.8 .4 15.3 .4-11.9 .4 21.4 .4-5.1 .4-3.2 .4 7.7 .4-20 .4 15.5 .4-6.7 .4 12.8 .4 4.3 .4-21.6 .4-5.6 .4 30.3 .4-42.6 .4 19.5 .4-.9 .4 12.3 .4-8.7 .4-19 .4 18.6 .4 10 .4 2.1 .4-12.5 .4-.9 .4-5.4 .4 2.9 .4 40.1 .4-27.9 .4-5 .4 4.7 .4 2.1 .4-22.8 .4 12.3 .4 3.5 .4-9 .4 14.9 .4-25 .4 20.9 .4 .1 .4 7.8 .4-9.7 .4 14.1 .4-8.2 .4-.9 .4 1.5 .4-4.4 .4-9.5 .4 11.8 .4-15 .4 25.2 .4-8 .4-24.2 .4 30.7 .4-13.4 .4 12.4 .4-21.8 .4 26.8 .4-10.4 .4-12.4 .4-9.9 .4 18.5 .4-19 .4 5.5 .4 16.5 .4-39.4 .4 53.3 .4-17.4 .4-3.9 .4-2.6 .4 8.3 .4-4 .4-8.2 .4 8.4 .4-9.7 .4 28.9 .4-10.6 .4 9 .4-25.8 .4 19.9 .4 3.2 .4-27.5 .4 26.5 .4 20.5 .4-48.4 .4 10.2 .4-4.2 .4 14 .4 33.4 .4-35.8 .4-9.7 .4 12.1 .4-2.8 .4-5.1 .4-11.1 .4 32.8 .4-38.4 .4-2.7 .4 18.5 .4-9.5 .4 1.3 .4-.6 .4-9 .4 23.9 .4 9.6 .4-19.9 .4 17.5 .4 9.2 .4-17 .4-5.4 .4 8.3 .4 2.5 .4-13.2 .4 7 .4-23.9 .4 25.4 .4-12.6 .4-19.8 .4 37.2 .4-4.9 .4 0 .4-7.9 .4 10 .4-22 .4 14.4 .4-7.6 .4-2 .4 24.1 .4-24.3 .4 26.9 .4-28.2 .4 11.4 .4-10.2 .4 15.9 .4-15.6 .4 17.9 .4-8.4 .4 4.8 .4 4.7 .4-.6 .4-6 .4-14.2 .4 32.3 .4-11.9 .4-1.7 .4-9.5 .4 3.3 .4 10.5 .4-21.8 .4 11.8 .4 6.3 .4-13.1 .4-7 .4 17.5 .4 8.9 .4-20.1 .4-2.8 .4 6.3 .4 9.2 .4-21.4 .4 27.2 .4-6.2 .4-10.5 .4 2.1 .4-4 .4-7.5 .4 22.3 .4-10.2 .4-10.3 .4 22.3 .4 7.4 .4-9.6 .4-13.7 .4 3.5 .4 7.8 .4-8.2 .4-5.5 .4 21.3 .4-12.5 .4-9.1 .4 30.7 .4-35.7 .4 15.6 .4-12.2 .4 1.4 .4 3.1 .4 12.3 .4-11 .4-8.2 .4 32.4 .4-17.6 .4 17.5 .4-22.4 .4 2.8 .4 15.4 .4-10.7 .4-9.6 .4 15.6 .4-20 .4 27.7 .4-12.5 .4-8.2 .4 11.3 .4 4.6 .4-10.1 .4 3.8 .4 12.1 .4-15.1 .4-.1 .4 13 .4-25.9 .4 9.4 .4-16.9 .4 5.9 .4 15.2 .4-3.4 .4 30.3 .4-41.9 .4 12.5 .4 15.5 .4-13.7 .4 4.5 .4-19.3 .4 14 .4 3 .4 8.9 .4-16.9 .4 8.3 .4 6.4 .4-28.6 .4 8.2 .4 3.3 .4 18.1 .4-15.3 .4 2.8 .4 16.7 .4-34.4 .4 19 .4 3.3 .4-20.4 .4 3.9 .4-5.3 .4 29.8 .4-12 .4-10.4 .4 2.3 .4 .9 .4 .5 .4-4.3 .4-4.9 .4 19.2 .4 4.7 .4-24.8 .4 2.4 .4 21.7 .4-41.5 .4 18.8 .4 21.3 .4 3.3 .4-18.3 .4 24.3 .4-7.4 .4-14.2 .4-.7 .4-7 .4 34.1 .4-36.1 .4 22.1 .4-8.9 .4 8.1 .4-8.4 .4 1.3 .4 2.3 .4-10 .4 14.5 .4-21.6 .4 15.2 .4 6.9 .4 1.6 .4 1.3 .4-10.2 .4 4.5 .4 .3 .4 4.5 .4-1.7 .4-1.1 .4 1.5 .4 10.7 .4-20 .4 8.5 .4-5.4 .4-10.4 .4 3.4 .4-.4 .4-11.3 .4 35.1 .4-16.2 .4-19.2 .4-1.9 .4-1.2 .4 40 .4-25.7 .4 17 .4 10.1 .4-12.4 .4 .8 .4-15.9 .4-6.1 .4 19.4 .4-26.2 .4 40.4 .4-35 .4 27.6 .4 1 .4-30.9 .4 4.3 .4-1.2 .4-5.7 .4 25.6 .4-14.5 .4 20.1 .4-6.6 .4 1.6 .4-1.1 .4-1 .4 13.6 .4-3.2 .4-10.8 .4-17.7 .4-1.1 .4 18.4 .4 13.7 .4-13 .4-4 .4-3.3 .4-10.1 .4 19.2 .4 8.9 .4-11.7 .4 4.8 .4 9.4 .4-25.4 .4 25.7 .4-15.4 .4 5.9 .4 5 .4-27.3 .4 30 .4-4.8 .4 4.9 .4-30.9 .4 18.6 .4-.9 .4 6 .4 3.7 .4-13.3 .4 2.7 .4 35.6 .4-40.2 .4 4.2 .4-18.3 .4-0 .4 27.1 .4-16.3 .4-9 .4 20 .4-5 .4-3.4 .4 5.2 .4 16.5 .4-21.3 .4 1.1 .4 7.9 .4-23 .4 34.8 .4-20.4 .4 6.7 .4 14.1 .4-16.2 .4 .6 .4 6.4 .4 8.8 .4-.5 .4-33.9 .4 .4 .4 16.6 .4 23.2 .4-25.7 .4-3.2 .4 7.5 .4 12.1 .4-15.8 .4 5.1 .4-7.5 .4-19.3 .4 3.7 .4 7 .4 11.5 .4-.6 .4-18 .4 10.4 .4-7.9 .4 .2 .4 23 .4 3.5 .4-2.7 .4 11.3 .4-35.3 .4 25.7 .4-6.8 .4 2.7 .4-20.7 .4 10.5 .4 22.4 .4-32.5 .4 13.3 .4-7.9 .4-6.3 .4 28 .4-9.7 .4-7.7 .4-9.5 .4 37 .4-17 .4-18.3 .4 5.1 .4 11.6 .4-1.2 .4 19.4 .4-23.9 .4-.6 .4 17.2 .4-1.9 .4-16 .4 19.5 .4-33.1 .4 24.9 .4-10.8 .4 8.1 .4 1 .4-3.9 .4 4 .4-19 .4 30.4 .4-22.7 .4 5.5 .4 1.9 .4-10.6 .4-.1 .4-2.2 .4 12.3 .4 3 .4 2.5 .4-1.9 .4-.1 .4-.3 .4 5.2 .4-4.6 .4-.1 .4-9 .4 10.7 .4-12.5 .4 6.2 .4-4.4 .4 .9 .4 35.9 .4-19.4 .4-10.5 .4-15.7 .4 3.2 .4 16.6 .4-14.7 .4 11.9 .4-6 .4 8.6 .4 9.3 .4-.5 .4-12.7 .4-21.4 .4 21 .4 9.5 .4-11.1 .4-9.8 .4 22.4 .4 1.4 .4-13.9 .4 4.9 .4 .9 .4-22 .4 13.9 .4-9.4 .4 4.8 .4 14.7 .4-10.3 .4 4 .4-.4 .4-13.3 .4 18 .4-.3 .4-.6 .4 1.3 .4-7.8 .4-1.2 .4-4.5 .4 21.2 .4-7.1 .4 3.7 .4-9.9 .4 13.6 .4-18.6 .4-13.1 .4 31.4 .4-23 .4-6.2 .4 20.9 .4-4.3 .4 12.4 .4-18.9 .4 3 .4 2.4 .4 2.2 .4-22.6 .4 27.2 .4 13.4 .4-5 .4-33.2 .4-13.1 .4 21 .4-23.9 .4 53.1 .4-27.1 .4 20.4 .4-7.9 .4-3.1 .4-3.4 .4 20.1 .4-5.2 .4-20 .4 5 .4-6.9 .4 14.8 .4 9.4 .4-23.7 .4-5.5 .4 7.6 .4-.8 .4 22.3 .4-12.2 .4-22.4 .4 .7 .4 22.5 .4 2.1 .4-3.7 .4-13.5 .4 13.8 .4-1 .4-10.5 .4 10.4 .4-5.1 .4-13.3 .4 6.2 .4 11.4 .4-6.4 .4-17.5 .4 18.4 .4 .3 .4 19.4 .4-18.5 .4 19.4 .4-8.5 .4 7.8 .4 .2 .4-12.1 .4-.7 .4 6.1 .4 7.4 .4-10.6 .4-6.6 .4-20.3 .4 26.4 .4-5.6 .4-5.9 .4 1.6 .4 12.7 .4-1.2 .4-14.9 .4-10.8 .4 30.6 .4-30.8 .4 4.3 .4 14 .4 13.6 .4-8.4 .4 19.5 .4-22.6 .4 22 .4-19 .4-11.5 .4-1.8 .4 6.9 .4 7.7 .4-9.4 .4 25.9 .4-13.8 .4-2.6 .4-21.7 .4 15.1 .4 3.9 .4-3.1 .4-6.9 .4 1.6 .4 23.1 .4-25.9 .4 29.8 .4-34.1 .4 11.3 .4-5.5 .4 15.9 .4 7 .4-12.4 .4-23.5 .4 16.7 .4 5.9 .4-10.6 .4 1.1 .4-11.7 .4 23.9 .4 7.1 .4 1.2 .4-13.7 .4 1.3 .4 37.4 .4-22.2 .4-33.6 .4 2.9 .4-.8 .4 3.2 .4 17.7 .4-9.6 .4-13.4 .4 1.6 .4 2.1 .4 9.7 .4-11.4 .4 25.2 .4-13.6 .4 10.4 .4 1.6 .4-8.2 .4 6.6 .4-3 .4 2.5 .4-1.3 .4 6.6 .4-18.2 .4 7.9 .4-9.4 .4-8.3 .4 12.5 .4 39.4 .4-44.9 .4 23.8 .4-29.8 .4 9.8 .4 19.9 .4-30.5 .4 5.3 .4 7.4 .4 15.1 .4-9.7 .4-9.8 .4 20.9 .4-24.2 .4 22.6 .4-26.7 .4 34.7 .4-9.2 .4 5.8 .4-10.7 .4 1.7 .4 12.6 .4-32.6 .4 7 .4 9.1 .4 10.9 .4-25.9 .4 13.6 .4 0 .4 5.2 .4 8.2 .4-24.1 .4 13.8 .4-6.5 .4-4.2 .4 20 .4-8.6 .4-15 .4 4.6 .4 26.9 .4-28.7 .4-4.3 .4 23.6 .4 6.4 .4-18.3 .4-17.8 .4 33 .4-21.3 .4 11.6 .4 10.6 .4-17.7 .4 12.4 .4 5.9 .4-2.3 .4-21.9 .4-1.7 .4 3.3 .4 4.4 .4 5.3 .4-6.3 .4-12.2 .4 9.4 .4-2.2 .4-5.3 .4 17.5 .4-22.6 .4 30.5 .4-15 .4-1.8 .4-3.9 .4-1.3 .4 24.3 .4-6.2 .4-13.4 .4-14.7 .4 20.5 .4-7.8 .4 15.8 .4-15.9 .4 17.4 .4-20.6 .4 16.1 .4-16.9 .4 9.8 .4-8 .4 17.2 .4 5.5 .4-26.8 .4 14.8 .4-7.7 .4 2 .4 13.4 .4 2.4 .4-4.2 .4-6.9 .4 16.3 .4-22.5 .4 16.5 .4-22.9 .4 37.2 .4-6.9 .4-10 .4-21.9 .4 12.6 .4-.5 .4-.6 .4 .7 .4 8.2 .4-7 .4-3 .4 22.3 .4-21.2 .4-2.4 .4 2.9 .4 6.8 .4 8.9 .4-15.6 .4-13.7 .4 29.6 .4-30.9 .4 5.5 .4-1.3 .4 18 .4-6.3 .4-8.3 .4 .5 .4 13.2 .4-18.1 .4 15.7 .4 4.2 .4-3.1 .4-21.5 .4 15.1 .4 16.1 .4-24 .4 19.2 .4-23.6 .4 11.4 .4 7.7 .4-11.2 .4-20.7 .4 28.8 .4 3.6 .4-9.7 .4-3.8 .4 23.6 .4-8 .4-15.9 .4 9.2 .4 20.7 .4-30.6 .4 1.8 .4-9.6 .4 19 .4-7.3 .4-4.7 .4 26.2 .4-17 .4 1.2 .4 13.9 .4 5.1 .4-15.7 .4-3.6 .4 18 .4-27.1 .4 24.1 .4-19.1 .4-4.2 .4 18.8 .4-21.1 .4 10.3 .4 2.7 .4-18.1 .4 5.5 .4 9.4 .4-15.2 .4 18.2 .4-13.9 .4 28.4 .4-26.2 .4-4.5 .4 12.1 .4 4.3 .4 .5 .4-10.7 .4-3.2 .4 11.8 .4 12.8 .4-31.3 .4 20.3 .4 3.3 .4 7.7 .4-33.3 .4 36.1 .4-1.4 .4-46.6 .4 32.8 .4-6.7 .4 0 .4 11.3 .4 10.3 .4-17.6 .4 3.9 .4 2.8 .4-.1 .4 11.3 .4 .3 .4-19.3 .4 4.8 .4-20.6 .4 23 .4-.6 .4-26.7 .4 21.2 .4 20.1 .4-18.5 .4 .6 .4-11.9 .4 10.6 .4-15.1 .4 14.6 .4-6.6 .4 16 .4 2.3 .4-14.2 .4-8.6 .4 30.7 .4-25 .4 10 .4-1.6 .4 13.6 .4-8.8 .4-5.6 .4-9.8 .4 9.7 .4-5.5 .4-1.2 .4-1.1 .4 4.5 .4-5 .4-7.8 .4-6.6 .4 29.2 .4 11.7 .4-24 .4 25.2 .4-34.9 .4 21.6 .4-21.5 .4 8.1 .4-9.1 .4 27.2 .4-10 .4 3.9 .4 3.3 .4 4.7 .4-14.7 .4-.1 .4-7.6 .4 13 .4-9.4 .4 15 .4 10.8 .4-24.6 .4-6.7 .4-2.3 .4 12 .4-3.7 .4 10.6 .4-12.1 .4 5.1 .4 6.7 .4 10.3 .4-24.1 .4-1.2 .4 25.8 .4-16.4 .4-4.1 .4-.1 .4-4.7 .4-9.3 .4 27 .4-2.4 .4-11.4 .4 8.7 .4-15.5 .4 8.8 .4 3.7 .4 2 .4-1.1 .4-11.1 .4 .6 .4 17.9 .4-25.1 .4 10.3 .4 5.6 .4 4.8 .4-8.6 .4 15.9 .4-11.9 .4 1.3 .4 6.5 .4-8.2 .4-7.1 .4 13.7 .4-23.9 .4 25.5 .4 1.7 .4-17.2 .4 8 .4 15.5 .4-14 .4-2.3 .4 7.7 .4 .6 .4-18.2 .4-5.4 .4 12.1 .4 9.5 .4-25.2 .4 12.3 .4 27.9 .4-17.6 .4-9.3 .4 9.3 .4-12.4 .4 12.6 .4-21.5 .4 30.7 .4-7.1 .4-12.3 .4-7.7 .4 12.5 .4-1.3 .4 4.5 .4-2.6 .4-3.6 .4 14.9 .4-8.9 .4-.5 .4 3.5 .4 .4 .4-16.7 .4 11.8 .4-5.3 .4 8.5 .4-.8 .4-9.7 .4 7.7 .4-2.6 .4 16.5 .4-5.2 .4-1.1 .4-1.6 .4-11.2 .4 4.3 .4 18.2 .4-12.8 .4-16.2 .4 6.8 .4 .5 .4 13.5 .4-2 .4 2.9 .4-12.5 .4-3.5 .4-2.2 .4 26.6 .4-22.3 .4 3.1 .4-14.9 .4 18.6 .4-13.9 .4 20.6 .4-21.9 .4 9.8 .4 6.9 .4-13.7 .4-17.6 .4 53.1 .4-57.1 .4 20.5 .4 4.4 .4 21.6 .4-17.1 .4 7.4 .4-20.5 .4 13.5 .4 11.4 .4-19.9 .4-.4 .4 18.7 .4-13.1 .4-4.8 .4-2.8 .4 12.4 .4-9.4 .4 .2 .4-7.6 .4 31.9 .4-26.4 .4 16.7 .4-7 .4-14.8 .4 28.5 .4-12 .4 7.5 .4-14.3 .4-16.7 .4 5.7 .4 25.6 .4-9.9 .4 .7 .4-9.1 .4 7.2 .4 6.7 .4-17.8 .4 13.9 .4-3.5 .4 12.8 .4-26.6 .4 18.1 .4-16.4 .4 26.3 .4-18.4 .4 3.2 .4-14.5 .4 11.1 .4-12.3 .4 20.7 .4-3.4 .4 5 .4 12.5 .4 1.2 .4-21.7 .4-6.2 .4 26 .4-6.6 .4-6.6 .4-12.7 .4 18.9 .4-1.8 .4 .6 .4-12.5 .4 6.4 .4 2.8 .4-10.3 .4 9.4 .4-21.3 .4 30.4 .4-29.6 .4 10.7 .4 4.5 .4 9.2 .4-10.7 .4 6 .4-10 .4 11.5 .4-8 .4 20 .4-6.9 .4-18.2 .4-3.7 .4 15.3 .4 15.5 .4-9.4 .4 .2 .4-10.8 .4 11.1 .4 8.8 .4-27 .4 10.5 .4 5.1 .4 7 .4-12.5 .4 11.3 .4-.2 .4-17.9 .4 6.8 .4 11.4 .4-15.4 .4 41.6 .4-44 .4 11 .4 11.7 .4-16.1 .4-3.8 .4-13.6 .4 8 .4 21.4 .4-6.2 .4-11.8 .4 15.3 .4-16.1 .4 10.8 .4-10.5 .4 4 .4 9 .4-11.2 .4 9.1 .4-2.9 .4 3 .4-12.5 .4 21.2 .4-9.1 .4-11.1 .4 10.3 .4-5 .4-7.7 .4 3.3 .4 3.9 .4 11.8 .4-2.4 .4 8.4 .4-29.1 .4 8.7 .4 24.2 .4 3.8 .4-23.7 .4 2.2 .4-10.9 .4 6.6 .4-27.1 .4 31.6 .4-17.7 .4 1.1 .4 11.7 .4 11.8 .4-2.7 .4 7.5 .4-1.4 .4-14.8 .4 20.9 .4-26.4 .4 5 .4 0 .4 10 .4-7.2 .4 2.4 .4-6 .4 8.5 .4-9.5 .4 18.1 .4-9.1 .4-20.2 .4 11.8 .4 .9 .4 4.9 .4 13.1 .4-8.5 .4 9.2 .4-6.2 .4-6.4 .4-.9 .4-7.1 .4 6.9 .4-15.9 .4-4.2 .4 36 .4-2 .4-1.5 .4-8.9 .4-6.2 .4-16.3 .4 26.7 .4-27.8 .4 22.2 .4 13.3 .4-7.1 .4-5.5 .4 26.1 .4-48.4 .4 5.9 .4 17.8 .4-3.9 .4 10.7 .4-22.7 .4 21.4 .4-10.6 .4 9 .4-25.2 .4 23.7 .4 2.3 .4-10.9 .4 8.6 .4-21.6 .4 12.8 .4-1.3 .4 7.2 .4 6.5 .4-23.9 .4 16 .4 8.6 .4-4.1 .4-25.6 .4 14.4 .4-15.9 .4 31.1 .4-20.2 .4 2.6 .4 2.9 .4-5 .4 14.7 .4 7.4 .4-12.8 .4-1.5 .4 1.6 .4-3.6 .4 4.9 .4-9.9 .4-11.3 .4 30.8 .4-30.9 .4 11.7 .4 8 .4-8.4 .4-5 .4 1.1 .4 4.1 .4 8.1 .4 7.9 .4-2.5 .4 7.8 .4-18.8 .4 1 .4 8.2 .4-3.8 .4 8.3 .4-16.8 .4 11.5 .4 2 .4-1.7 .4 .4 .4-14.4 .4 11.1 .4-1.6 .4 14.3 .4-1.3 .4 2 .4-13.2 .4 28.2 .4-22.7 .4-3.8 .4-3.3 .4 8.9 .4-16.6 .4-9.1 .4 16 .4 14.9 .4 4 .4-20.6 .4 5.9 .4-8.9 .4 12.2 .4-1.8 .4-7.1 .4 11.9 .4-14.8 .4 11.5 .4-19.8 .4-.7 .4 18.2 .4 3.9 .4 2.6 .4-19.8 .4 19.3 .4 2.5 .4-15 .4-3.4 .4-.4 .4-3.4 .4-2.7 .4 21.9 .4-24.1 .4 33.8 .4-16 .4-19.9 .4 10.7 .4 15.9 .4-3.7 .4-28.7 .4 14 .4 15.3 .4-13.2 .4 13.9 .4-12.4 .4-7.9 .4 8.5 .4 18.4 .4-11.5 .4-3.6 .4-13.5 .4 21.3 .4-15.8 .4-7.9 .4 24.4 .4-7.2 .4 6.7 .4 3.7 .4-16.7 .4 22.4 .4-36.8 .4 21.9 .4-22.6 .4 11.9 .4 5.7 .4-11.2 .4 19.5 .4-15.9 .4 24.5 .4-6.4 .4 12.1 .4-31.9 .4-6.2 .4 40.3 .4-13.2 .4-.1 .4-31 .4 20.7 .4-4.6 .4-6.1 .4 10 .4-9.3 .4 6.9 .4 .5 .4-2 .4 7.3 .4 11.2 .4-11.3 .4-13 .4 30.1 .4-33.2 .4 4.7 .4 15.8 .4-6.9 .4 2 .4 2.4 .4-21.8 .4 7.5 .4 22 .4-8.9 .4 .1 .4 14 .4-18.6 .4-6 .4-8.8 .4 22.9 .4-22.3 .4 14.1 .4-11.7 .4 8 .4 2.1 .4 2.5 .4-6.3 .4 3.2 .4 5 .4 33.4 .4-34 .4 3.1 .4-.6 .4 3.6 .4 6.3 .4-12 .4-2 .4-5.9 .4-6.5 .4 23.1 .4 3.6 .4 .3 .4-20.8 .4 1.5 .4 22.3 .4-15.3 .4 .7 .4 17 .4-31.1 .4-5.8 .4 15 .4 16.6 .4-7.6 .4-4.3 .4-5.1 .4-.4 .4-4.4 .4 .7 .4-.2 .4 26.6 .4-15.2 .4-6.5 .4-13 .4 30.6 .4-11.2 .4 .5 .4-28.7 .4 42.8 .4-.2 .4-26 .4 17.3 .4-20.6 .4 25.4 .4-26.9 .4 14.2 .4 1 .4-16.5 .4 2.5 .4 13.3 .4-6.6 .4 2.2 .4 7.1 .4-1.4 .4-9.6 .4 1.7 .4 26.8 .4-15.1 .4-2.5 .4-4.2 .4-11.5 .4 15.3 .4 13.2 .4-29.6 .4-1.3 .4 11.5 .4 17.6 .4 22.5 .4-45 .4-13.3 .4 38.1 .4-15.8 .4 .5 .4-6.3 .4 13 .4 .5 .4-7.8 .4 4.2 .4-7.5 .4-7.7 .4 .9 .4 29.4 .4-17.3 .4 2.7 .4 4.2 .4-23.8 .4 32.6 .4-21.2 .4 6.8 .4-12.3 .4-1.9 .4 4.8 .4 4.5 .4 14.1 .4-22.3 .4 14.6 .4-4.2 .4 .1 .4 14.8 .4-27 .4 18.1 .4-10 .4-11.3 .4 4.2 .4 5.5 .4-6.4 .4 11.9 .4 2.1 .4-10.8 .4 6.3 .4 3.8 .4-6.2 .4 4.4 .4 38.7 .4-41.1 .4-5 .4 25.2 .4-14.9 .4 8.8 .4-28.1 .4 4.7 .4 32.9 .4-14.1 .4-17 .4 23.3 .4-6.4 .4-11.6 .4 9.8 .4 16.6 .4-20.7 .4-6.1 .4 15.5 .4-17.6 .4 19.2 .4 4.8 .4-21.7 .4 5.2 .4-14.7 .4 2.4 .4 15.4 .4 2.8 .4-11.8 .4 5.9 .4 18 .4-26.7 .4 7 .4 18.4 .4-8.4 .4-15.8 .4 29.9 .4-14.9 .4-1.2 .4-10.4 .4 13.5 .4-5 .4-17.2 .4 10.4 .4 10.6 .4-22.2 .4-3.6 .4 2.5 .4 15 .4-11.9 .4 22.8 .4 14.4 .4-28.1 .4 24 .4-23.2 .4 .2 .4 7.4 .4-.9 .4-1.4 .4-15.8 .4-3.2 .4 7.1 .4 3.6 .4-.7 .4 19 .4-12.7 .4-7.2 .4-.4 .4 7.1 .4-12.7 .4 19.8 .4-11.3 .4-1 .4-4.3 .4 12.3 .4-19.1 .4 31.8 .4-13.5 .4-15.7 .4 15.1 .4 8.3 .4-11 .4 17 .4-25 .4 .8 .4-2.8 .4 15.6 .4-4.1 .4 17.4 .4-28.1 .4 12.8 .4-32.1 .4 43.2 .4-18.7 .4 1.1 .4 8.1 .4 10.1 .4-24.3 .4 5 .4 4 .4 10 .4-16.6 .4 4.7 .4 12.6 .4-13 .4-1.2 .4 1.7 .4 5.7 .4-8.7 .4-10.6 .4 13 .4-3.8 .4 2.4 .4-10.3 .4 32.3 .4-10.1 .4-13.3 .4 22.5 .4-11.2 .4-20.4 .4 10.6 .4 6.4 .4-.3 .4-6.1 .4 2.8 .4 7.4 .4 .7 .4-9.5 .4-18.9 .4 20.4 .4 16.6 .4-10.5 .4-15.4 .4 15.8 .4-6.9 .4 1.8 .4 12.9 .4-5.1 .4-11.6 .4-.3 .4 18.6 .4-19.6 .4 11.4 .4-23.1 .4 6.2 .4 25.7 .4-8.6 .4-4.6 .4 3.9 .4-16.5 .4 7.5 .4 13.3 .4-8.3 .4-12.6 .4 22.5 .4-9.2 .4-12.9 .4 13 .4-2 .4 2.7 .4-8.7 .4-4.2 .4 .6 .4 6.1 .4-10.4 .4 15.1 .4 .8 .4-.6 .4 2.2 .4-9.5 .4-2.7 .4 3.1 .4-2.4 .4-3.1 .4 6.3 .4-.6 .4-4.4 .4 7.1 .4 19.4 .4-51.7 .4 43.7 .4-20.9 .4 2.2 .4 5.4 .4-1.2 .4 18.9 .4-23.9 .4 5.5 .4 5.4 .4 5.1 .4-2.6 .4-3.8 .4 9.7 .4-14.5 .4 14.8 .4-20.2 .4 15 .4-14.4 .4-14.8 .4 17.2 .4 36.2 .4-30.9 .4 6.8 .4-16.2 .4 13.2 .4 12.1 .4-7.2 .4-10.5 .4 3.8 .4-14.8 .4 3.8 .4 25.2 .4-29.4 .4 24.5 .4 .2 .4-9.8 .4-.1 .4 4.2 .4-20.3 .4 7.7 .4 5.9 .4-2.6 .4 1.7 .4 5.9 .4 3 .4 7.9 .4-20.5 .4 15.8 .4-18.2 .4 14.7 .4-12.8 .4-4.4 .4 17.1 .4-8.1 .4-1.4 .4 3.1 .4 8.5 .4-15.7 .4 4.3 .4-1.2 .4 15.1 .4-20.2 .4 18.8 .4-5.4 .4-4.7 .4-19.4 .4 1.2 .4 15.3 .4 20.6 .4-35.6 .4 19.6 .4-26.5 .4 37 .4-4.6 .4-2.7 .4-11 .4 12.2 .4 4.4 .4-8 .4-18.8 .4 10.5 .4-.5 .4 37.7 .4-22.4 .4-22.2 .4 15.9 .4-10 .4 3 .4 20.1 .4-28.1 .4 9.1 .4-.2 .4 19.1 .4-23.4 .4 3.1 .4-13.7 .4 25.1 .4-21.9 .4 31.5 .4-19.5 .4-3.9 .4 7.2 .4-4.6 .4-7.1 .4 20.2 .4-9.6 .4 22.3 .4-16.5 .4-12.7 .4 17.7 .4-.1 .4-9 .4-3.4 .4-3.3 .4 16.5 .4-26.3 .4 8.4 .4 24.2 .4-13.1 .4-3.1 .4-.4 .4-17.5 .4 2.9 .4 30.9 .4-21.8 .4 19.4 .4-15.7 .4-8.9 .4 13.3 .4-15.8 .4 5.3 .4 14.5 .4-7.5 .4 7.2 .4-18.7 .4 28.9 .4-43.1 .4 29.6 .4 3.3 .4-.2 .4-4 .4-4 .4 3.6 .4-5.1 .4 3.4 .4-2.9 .4-.2 .4-2.8 .4 1.2 .4-7.4 .4 2.9 .4 3.2 .4 6.1 .4 .7 .4-13.5 .4 11.9 .4 9.4 .4-16.7 .4 4.4 .4 12.1 .4-19.2 .4 21.8 .4-25.8 .4 29 .4-22.5 .4 12.8 .4-29.7 .4 18.7 .4 16.3 .4 .9 .4 6.5 .4-14.5 .4-4.8 .4-3.4 .4 3.1 .4 12.9 .4 6.4 .4-20.1 .4 15.9 .4-9.7 .4-1.1 .4-10 .4 9.5 .4-6 .4 8.9 .4-3.4 .4-2.5 .4 8.2 .4 4.2 .4-8.4 .4-1.8 .4 1.8 .4 4.7 .4-14.1 .4-12.1 .4 16.7 .4-4.1 .4 14.2 .4-26 .4 22.7 .4-10.5 .4 9.4 .4 5.6 .4-1.2 .4-25 .4 8.8 .4 9.6 .4 2.5 .4-22 .4 19.3 .4 12.8 .4-13 .4 1.6 .4-5.7 .4 11.8 .4-12.2 .4-2.6 .4-8.7 .4 25.6 .4-11 .4-3.5 .4 15.5 .4-15.4 .4 5.9 .4-.9 .4 2 .4-11.8 .4 6.1 .4-8 .4 14.7 .4 5.3 .4-10.7 .4-9.4 .4 20.6 .4 12 .4-14.3 .4-21.4 .4 1.3 .4 14.8 .4-17 .4 1.9 .4 2.3 .4 22 .4-29.2 .4 20.2 .4 .1 .4 7.6 .4-21.7 .4 11.4 .4 15.6 .4-23.2 .4 18.4 .4 9.6 .4-29.5 .4-13 .4 23.4 .4 7.9 .4 .7 .4-1.4 .4 1.3 .4-27.5 .4-2.4 .4 17.8 .4 2.5 .4-12.9 .4 32.8 .4-46.9 .4 21.4 .4-6.1 .4 19.3 .4-5.8 .4-5 .4 .3 .4 19.7 .4-25.2 .4 29.1 .4-20.4 .4-4.4 .4 1.8 .4-11.7 .4 13.3 .4-11.3 .4 16.8 .4 9.1 .4-20.5 .4 20.8 .4-15.5 .4-9.6 .4-6.2 .4 2.4 .4 32.6 .4-9.6 .4-9.8 .4-12.9 .4 22.7 .4-.1 .4-9.6 .4-15.9 .4 19.9 .4 30.2 .4-50.5 .4 33.3 .4-3.1 .4 1.3 .4-24 .4 7.4 .4-13.5 .4 27.2 .4-43.8 .4 30.6 .4-5.7 .4-3.1 .4 .7 .4-5.8 .4 22.7 .4-23 .4 29.1 .4-8.5 .4-6.2 .4-7.9 .4-4.5 .4 15.7 .4 17.6 .4-.2 .4-28.6 .4 19.2 .4-1.5 .4-7.4 .4-3.2 .4 16.4 .4-.4 .4-6.2 .4 20 .4-34.2 .4 .8 .4 10.6 .4 2.2 .4-11.3 .4 8.8 .4-5.9 .4-9.8 .4-5.7 .4 23.1 .4 .9 .4-22.4 .4 21.3 .4-3 .4 .8 .4-6.5 .4 39.4 .4-46 .4 .3 .4 14.2 .4 9.2 .4-4.1 .4-12.8 .4 18.2 .4-20.6 .4-8.6 .4 38.5 .4-24.4 .4-2.5 .4-4.7 .4 5.9 .4 3.3 .4-17.7 .4 2.9 .4 24.7 .4 .4 .4-22 .4 18.8 .4-8.5 .4 11.5 .4-14.1 .4 10.8 .4-30.4 .4 10.4 .4 17.1 .4-3.1 .4-8.7 .4 3.4 .4-9.6 .4 39.9 .4-49.6 .4 27.2 .4-14.8 .4-.6 .4 15.8 .4 9.2 .4-5.8 .4-9.2 .4-19.4 .4 26.2 .4-36 .4 32.4 .4 6.6 .4-12.7 .4-17.4 .4 3.8 .4 6.6 .4-.2 .4 35.8 .4-43 .4 6.5 .4 13.6 .4-3.7 .4-3.5 .4 12.2 .4 3.5 .4-9.6 .4 14 .4-8.1 .4-1.3 .4-3.3 .4-15.2 .4 4.1 .4 2.8 .4 13.5 .4-15.9 .4 9.7 .4-7 .4 16.5 .4-22.9 .4-2.9 .4 29.1 .4-29.9 .4-1.8 .4 21.1 .4-10.2 .4 15.3 .4-14.6 .4-13.1 .4 31.2 .4-21.2 .4 6.8 .4-5.6 .4-12 .4 31.7 .4-30.9 .4 21.5 .4-17.5 .4 8.6 .4 10.8 .4-16.8 .4 17.2 .4-5 .4 1 .4 21.1 .4-22.3 .4-.9 .4 6.4 .4 5.6 .4-1.4 .4-5.1 .4-11.7 .4-13 .4 23.2 .4-14.9 .4 17.1 .4-12.4 .4 12.3 .4-1.8 .4-6.7 .4 3.7 .4-8.1 .4 21.5 .4-7.8 .4 24.7 .4-32.1 .4 2.5 .4-23.5 .4 33.5 .4-31.7 .4 3.6 .4 7.8 .4-8.7 .4 29.6 .4-1.9 .4-21.8 .4 22.4 .4-21.2 .4 22.9 .4-15.2 .4-14 .4 7.5 .4-1.7 .4-5.1 .4 16.9 .4-1.4 .4-4.3 .4-.7 .4-3.8 .4 9.8 .4-16 .4-.2 .4 23.6 .4-16.2 .4 6.1 .4-12.3 .4-.8 .4 16.7 .4 5.6 .4-7.7 .4-32.5 .4 21.4 .4 11 .4-1.8 .4-7.5 .4 7.3 .4-12.7 .4 21.4 .4 1.1 .4-.9 .4-9.4 .4-10.8 .4 21.7 .4-5.9 .4 23.8 .4-42.8 .4 10.8 .4 1.2 .4-7.7 .4 9.2 .4-16 .4 23.5 .4-11.6 .4 6.6 .4-10.9 .4 14.6 .4-9.5 .4 16.5 .4-8.7 .4-34.3 .4 26.6 .4-6.8 .4 20.9 .4-27.7 .4 32.3 .4-12.5 .4-6.5 .4-4.1 .4 14.5 .4-4.9 .4-.6 .4-.7 .4-30.9 .4 30.6 .4-9.2 .4 .4 .4 16.8 .4-.6 .4-4.7 .4-7.9 .4 9.2 .4-18.8 .4 9.5 .4 10.5 .4-3.2 .4-10.8 .4 20.4 .4-21.7 .4-8.6 .4 9.1 .4 20.9 .4-18.2 .4-15.6 .4 19.3 .4-11.8 .4-7.6 .4-4.4 .4 39.6 .4-6.9 .4-16.3 .4 11.9 .4 2.7 .4-5.3 .4 4.5 .4-6.9 .4-18.2 .4 28.3 .4-2.6 .4-16.4 .4 9.8 .4-3.2 .4-3.3 .4 19.2 .4-1.5 .4-8.9 .4-3.2 .4-3.7 .4 19 .4-16.7 .4 10.2 .4-19.8 .4 8 .4-2.2 .4 10.4 .4-20.3 .4 30.1 .4-22 .4 16.4 .4-20.6 .4 14.2 .4 13.3 .4-12 .4-.2 .4-.8 .4-0 .4-8 .4 3.9 .4 2.2 .4 6.3 .4-7.9 .4 18.2 .4-6 .4-23 .4 5.4 .4 18.8 .4-11.3 .4-.4 .4 25 .4-37.4 .4 12.8 .4-4.9 .4 3.7 .4-9.5 .4-.9 .4 17.2 .4 0 .4-9.1 .4 9.8 .4 10.6 .4-20.3 .4 1.8 .4-10.1 .4-4.5 .4 8.6 .4-6 .4 31.6 .4 2.6 .4-12.6 .4 3.6 .4-3.2 .4-9 .4-.3 .4 13.2 .4-5.6 .4-8.8 .4 22.2 .4-26.7 .4-5.8 .4 25.2 .4-15 .4-.8 .4-10.8 .4 22.9 .4-21.9 .4 10 .4-11.3 .4 9.2 .4-.3 .4 13.7 .4-9 .4-2.6 .4-14.2 .4 16.5 .4 2.9 .4-13.2 .4 11 .4-11.8 .4-.1 .4 6.7 .4 7.1 .4-9.5 .4 26.7 .4-14.1 .4-4.9 .4-6.2 .4 8.1 .4-16.9 .4 10.7 .4-1.5 .4 21.4 .4-22.5 .4 1.1 .4-10.1 .4-2.1 .4 29.1 .4-16.5 .4 6.1 .4-13.6 .4 40.1 .4-33.4 .4 23.8 .4-1.6 .4-28.4 .4 24.5 .4 .9 .4-20.4 .4 1.5 .4 6.9 .4-10.5 .4 1.7 .4 19.4 .4-16.1 .4 7.5 .4-15.1 .4 6.7 .4-2.7 .4 14.3 .4 12.4 .4-28.1 .4 7.1 .4 10.5 .4-8.8 .4 16.8 .4-6.2 .4 .6 .4-11.5 .4 9 .4-5.9 .4 9.4 .4-6.6 .4-3.7 .4-13.9 .4 0 .4 24.8 .4-17.3 .4-8.8 .4 15.7 .4-3.2 .4 2.7 .4 13.5 .4-12.4 .4-16.3 .4 11.6 .4-9.6 .4 3.8 .4-.7 .4 6.5 .4-2.4 .4-7.3 .4 17.2 .4 9.3 .4-44.8 .4 41.4 .4-9.5 .4 9.4 .4-8.2 .4-5 .4-12.5 .4 34.1 .4-17.2 .4 9 .4-17.2 .4 7.9 .4-32.4 .4 18.2 .4 7.5 .4 27.3 .4-26.5 .4-3.8 .4-.6 .4-19.1 .4 41.9 .4-12.2 .4 1.8 .4 15.3 .4-28.9 .4 19 .4-23.1 .4 17 .4-.7 .4-6.8 .4-16.8 .4 2.6 .4 15.5 .4-15.3 .4 17.9 .4 3.9 .4-12.9 .4 15.9 .4-26.8 .4 12.9 .4 7.5 .4 3.4 .4 8.9 .4-1.5 .4-14.6 .4-3 .4 6.2 .4 2.4 .4 8.3 .4-7.4 .4-31.6 .4 32.3 .4-7.5 .4 19.8 .4-13.6 .4-28.7 .4 10.2 .4 2.8 .4-6.7 .4 25.8 .4-23.7 .4 17.8 .4 17.9 .4-22 .4-7.2 .4 15.9 .4-14.6 .4-4.9 .4 9 .4-4.9 .4-8.4 .4 17.1 .4-10.3 .4-3.8 .4 16.6 .4-12.9 .4 23.6 .4-23.9 .4 27.4 .4-12.2 .4 10.2 .4-21.7 .4 1.9 .4 17 .4-16.2 .4-4.1 .4 11.4 .4 12 .4-19.3 .4 13.1 .4-26.8 .4 19.9 .4-3.6 .4 12.1 .4 8.5 .4-3.5 .4-20 .4-7.5 .4 1 .4 25.2 .4 4.2 .4-26.9 .4-19.7 .4 43.1 .4-28.5 .4 7.5 .4-13.6 .4 28.9 .4 11.2 .4-12.3 .4-12.1 .4 1.8 .4 9.5 .4-23.8 .4-.3 .4 4 .4-.6 .4 5.1 .4 27.6 .4-22.9 .4 23.8 .4-26.9 .4-4 .4 16.7 .4-6.3 .4-17.3 .4-1 .4 3.6 .4 6.4 .4 23.7 .4-11.9 .4-10 .4-1.2 .4 15.6 .4 1.9 .4-2.1 .4 11.1 .4-20.9 .4-11.4 .4 17 .4-11.1 .4 22.3 .4-10.2 .4 11.7 .4-23.7 .4 18.9 .4-21.2 .4 11.6 .4 5.9 .4 5.3 .4 20.1 .4-16.8 .4-19.7 .4 11.3 .4-12.2 .4 6.4 .4 6 .4-11.8 .4 12.6 .4 8.2 .4-32.8 .4 26 .4-17.8 .4 10.3 .4 5.9 .4-14.9 .4 27.5 .4-27.4 .4 17.9 .4-9.3 .4 15.2 .4-30.9 .4 25.5 .4-4.8 .4-6 .4 7.1 .4 0 .4-11.4 .4-7.8 .4 21.1 .4-8.7 .4 .3 .4 5.1 .4-3.6 .4-10.1 .4 17.3 .4-8.2 .4 8.5 .4-8.4 .4-18.4 .4 12.4 .4 13 .4-16.5 .4 1.8 .4 8.4 .4-4.2 .4 14.1 .4-9.3 .4-8.3 .4 .7 .4 .4 .4-2.4 .4 14.8 .4-2.6 .4-9.3 .4-11.2 .4 15.2 .4 11.3 .4 .7 .4-22.3 .4 6.2 .4-5.7 .4 13 .4-5.3 .4-7.6 .4 2.9 .4 2.1 .4-6.1 .4-7.5 .4 10.7 .4 5.6 .4-1.5 .4-19.2 .4 19.2 .4 16 .4-5.9 .4-23.7 .4 12.3 .4 14.3 .4-15 .4 9 .4-14.4 .4 34.2 .4-41.1 .4 27.9 .4 2.5 .4-33.4 .4 33.6 .4-19.6 .4 18.7 .4-4.6 .4-3 .4-13.8 .4 4.9 .4 23.3 .4-27 .4 9.1 .4-9.6 .4-7.1 .4 30.4 .4-26.9 .4 8.5 .4 11.4 .4-8 .4-23.5 .4-1.8 .4 19.1 .4 20.3 .4-10.5 .4 7 .4-24.9 .4-4.3 .4 27.4 .4-22.5 .4 11.4 .4-2 .4-20 .4 27.6 .4-8.5 .4-8.2 .4 24.1 .4 2.8 .4-12.1 .4 14.4 .4-8.8 .4-25.2 .4 20.7 .4-8.5 .4-1.3 .4 13.8 .4-24.3 .4-5.5 .4 11.9 .4-9.2 .4 32 .4-20.1 .4 11.8 .4 9.5 .4-25.1 .4 3.3 .4 13.8 .4-12.2 .4 18.2 .4-24.9 .4 21.7 .4-22.8 .4 10.6 .4 3.2 .4-7.1 .4 22 .4-6.3 .4-28.3 .4 26.1 .4-11.6 .4 3.6 .4-11.5 .4 16.8 .4 13.9 .4-11 .4 6.9 .4-16.4 .4-2.4 .4 4.7 .4-15.4 .4-.9 .4 29.6 .4-16.8 .4 19.8 .4-14.5 .4 1 .4-32.3 .4 19.7 .4 9.9 .4 9.2 .4-7 .4-3.5 .4-9.8 .4-5.5 .4 14 .4 4.4 .4-.6 .4-10.2 .4 7.3 .4 32.9 .4-31.3 .4-5.6 .4-.8 .4-7.7 .4 13.8 .4-4.2 .4-6.3 .4 7.8 .4-16.7 .4 12.3 .4 14 .4-9.7 .4-12.3 .4 8.3 .4 4.4 .4 4.7 .4-13 .4 7 .4 18.2 .4-37.1 .4 23.5 .4 7.8 .4-18.4 .4-.1 .4 1.5 .4 .9 .4-.3 .4-.4 .4-9.8 .4 23.8 .4-8.6 .4 4.7 .4-8.9 .4 4.4 .4-1.1 .4 5.7 .4-4.1 .4 3.9 .4-2.3 .4 1.5 .4-11.7 .4 7.2 .4-18 .4 31.1 .4-13.6 .4 7.3 .4-3 .4-8.4 .4 4.1 .4 14.5 .4-.2 .4-18.3 .4 14 .4-29.6 .4 23.3 .4 1.9 .4 3.1 .4-5.9 .4-17.7 .4-.4 .4-1.4 .4 7.5 .4 4.4 .4 6.8 .4 12.4 .4-5.8 .4-11.6 .4 5.3 .4-10.3 .4 15.7 .4 4.5 .4-12.9 .4 11.5 .4 3.3 .4-6.7 .4-9.8 .4-2.5 .4-9.8 .4 17.3 .4 8.2 .4-15.4 .4 8.5 .4 7.7 .4-7.2 .4-11.5 .4 11.9 .4-6.1 .4 6.2 .4-20.2 .4 16.6 .4-3.6 .4-5.4 .4-8 .4 19.8 .4-2.1 .4 11.1 .4 1.3 .4 15.6 .4-15.8 .4-27 .4 9.7 .4 17.8 .4-7.4 .4-21.2 .4 .9 .4 1.3 .4 17.4 .4-21.3 .4-1 .4 15.2 .4-13.2 .4 9.1 .4 6.2 .4-.9 .4-1.3 .4 6.3 .4-8.6 .4 11.7 .4-5.7 .4 8.3 .4-9.9 .4 5.7 .4-10.7 .4 1.9 .4-3.4 .4 6.8 .4 35.7 .4-27.1 .4 8.1 .4-12.6 .4-7.8 .4 20 .4-4.6 .4-22.6 .4 7.7 .4-2.7 .4-2.1 .4 24.5 .4-15.1 .4-.8 .4-16.8 .4 23.1 .4-25.5 .4 26 .4-4.3 .4-8.5 .4-2.2 .4-11.3 .4 37.6 .4-4.2 .4-9 .4 4.8 .4-9.8 .4-1.4 .4-14.4 .4 33.3 .4-30.6 .4-5.9 .4 5.3 .4-6.2 .4 2.2 .4 15.5 .4-17.7 .4 3.6 .4 25.4 .4-12 .4 14 .4 3.8 .4-31.2 .4 23.9 .4-15.5 .4 13.1 .4-11.1 .4-6.9 .4 1.7 .4 4.1 .4-14.4 .4 30.8 .4-35.2 .4 23.4 .4-11 .4 12.8 .4 11.9 .4-39 .4 40.5 .4-23.3 .4 10.3 .4-12.2 .4-3 .4 10.1 .4 12.2 .4-9.5 .4 7.3 .4-11.6 .4-5.6 .4 6 .4-7.4 .4-4.5 .4 4.7 .4 6.8 .4 13.4 .4-12.6 .4 21 .4-16.1 .4-.6 .4-.4 .4-6.7 .4-1.3 .4 9 .4 6.2 .4-19.5 .4 24.2 .4-13.3 .4 8.8 .4-5.4 .4 7.9 .4-1.6 .4-12 .4 15.6 .4-22.8 .4 8.7 .4-2.9 .4 5.3 .4 4.1 .4-11.5 .4 4.1 .4 9.1 .4 4.2 .4-16.5 .4 5.6 .4 .3 .4 3.9 .4-10.4 .4 .9 .4-8.5 .4 13.3 .4-8.9 .4 44.7 .4-14.5 .4-21 .4-6.6 .4 14 .4-.5 .4 1.9 .4-12.4 .4-.3 .4-12.2 .4 4.6 .4 1 .4 3.3 .4 17.6 .4-9.5 .4-12.4 .4 31.5 .4-29.5 .4 12.3 .4-3.7 .4-3.2 .4 20 .4-17 .4 21 .4-15.4 .4-9.5 .4 7.4 .4 5.1 .4 7.4 .4-17.4 .4 4 .4 9.4 .4-10.3 .4 7.3 .4-4.5 .4-8.7 .4 23.8 .4-3.1 .4-19.8 .4-8 .4 17.4 .4 3.9 .4-6.8 .4 15.6 .4-16.6 .4 5 .4-9.8 .4 2.7 .4-11.3 .4 3.4 .4 4 .4 4 .4 2.7 .4 5.3 .4-.7 .4-8.5 .4 3.2 .4 12.9 .4-7.5 .4 5.5 .4-19.7 .4-.4 .4 18.3 .4-18.5 .4 21.3 .4-27.8 .4-.5 .4 9.8 .4-3.9 .4 23.7 .4-21.8 .4 16.9 .4-18.6 .4 11.9 .4-.2 .4-12.8 .4 8.1 .4 18.1 .4-19.3 .4 19.5 .4-5.3 .4 1.5 .4-12.4 .4-11.5 .4 25.6 .4-15.6 .4 7.3 .4 3.9 .4-10.3 .4-.8 .4-6.9 .4 8.4 .4 2.9 .4-4.2 .4-4.6 .4 10.3 .4 7.7 .4-11.4 .4 5.5 .4-20.7 .4 23.1 .4-8.1 .4 3.9 .4-5.1 .4 2.6 .4-5.2 .4 7 .4 1.7 .4-.1 .4 11.5 .4-29.3 .4-1.1 .4 13.7 .4-4.3 .4-12.6 .4 15.7 .4-16.7 .4 6.1 .4 9.8 .4-2.8 .4-10.9 .4 18.1 .4-6.1 .4-15.9 .4 5.2 .4-1.4 .4 8 .4 16.3 .4-28.8 .4-.1 .4-.1 .4 20.8 .4 8.9 .4-9.2 .4 4 .4-19.6 .4 17.7 .4 14.4 .4-17.6 .4-21.9 .4 15.3 .4-3.3 .4 8.8 .4-21.7 .4 12.7 .4 2.8 .4-5.6 .4 13.5 .4-7.5 .4-14.5 .4 2.3 .4 15.2 .4 12.9 .4-33.1 .4 7.4 .4 19.4 .4-22.4 .4 16.9 .4-20.3 .4 20.2 .4 8.2 .4-16.1 .4 17.1 .4-1.3 .4-25.5 .4 20.5 .4-18.2 .4 10.2 .4 12.3 .4 2.6 .4-10.2 .4 1.2 .4-3 .4-7.4 .4-5 .4 3.9 .4-2.5 .4 29.7 .4-33.2 .4 2.6 .4 9.2 .4-7.6 .4 7.3 .4-2.7 .4 3.7 .4 14 .4 1.3 .4-22.4 .4 13.6 .4-16.2 .4 9.1 .4-12.6 .4 8.3 .4-1.4 .4 2.7 .4 10.4 .4-22.1 .4-5.4 .4 30.6 .4-5.6 .4-1.8 .4 7.5 .4-21.7 .4 18.4 .4-10.1 .4 18.2 .4-8 .4-20.7 .4 19.5 .4-10.6 .4-.2 .4 8.3 .4-.7 .4-1.6 .4 .6 .4 3.1 .4-5.7 .4 1.4 .4-5.6 .4 14.2 .4 7.5 .4-22.2 .4 2.4 .4 2.9 .4-4.4 .4 3.2 .4 10.3 .4 8.8 .4-18.3 .4-.2 .4-11.9 .4 11.6 .4 10.1 .4 12.4 .4-28.9 .4 7.4 .4 4 .4-19.6 .4 16 .4 .2 .4 5.6 .4-.7 .4-4.8 .4-10.9 .4-2.1 .4 9.5 .4-4.7 .4-3.1 .4-3 .4 .2 .4 4.4 .4 12.5 .4-24.9 .4 19.7 .4-12.7 .4 7.3 .4 3.6 .4 7.4 .4-10.8 .4-14.9 .4 13.8 .4 9.8 .4-15.6 .4-5.3 .4-2.6 .4 20 .4 2.3 .4-5.6 .4-16.8 .4 3.4 .4 8.1 .4-1.7 .4-7.1 .4 12.5 .4-.2 .4 10 .4-11 .4 12.3 .4-20.1 .4 5.9 .4 3 .4 3.8 .4 3 .4-14.5 .4 5.3 .4 7.6 .4-5.4 .4 3.8 .4-8 .4 8.9 .4-4 .4-6.1 .4-.7 .4 8 .4-17.4 .4-3.2 .4 26.4 .4-10.3 .4 0 .4-11.3 .4-.7 .4 12.9 .4-11.4 .4-.8 .4 18.2 .4-20.3 .4 29.8 .4-10.3 .4-19.3 .4 17.9 .4 8.4 .4-3.3 .4-3.8 .4 5.5 .4-6.7 .4-3.8 .4 6.8 .4-2.3 .4-20.1 .4 27.9 .4-13.5 .4 15.9 .4-23.5 .4 6.9 .4 4.7 .4-10.3 .4 21.3 .4-18.2 .4-9.9 .4 23.2 .4-14.9 .4 1.5 .4-4.7 .4 13.8 .4-17.3 .4 19 .4-13.2 .4-7.6 .4 15.2 .4-6.6 .4 .7 .4 8.4 .4 5.4 .4-15.3 .4-3.9 .4 .1 .4-7.4 .4 6.7 .4 1.9 .4 3.4 .4-8 .4 2.8 .4 4.9 .4 4.9 .4 7.7 .4-4.9 .4-24.1 .4 20.6 .4-8.1 .4 1.1 .4 9.7 .4-4.5 .4 6.2 .4-16.1 .4 5.9 .4 .4 .4 3 .4-14.4 .4 22.2 .4-5.9 .4-6.9 .4 2.3 .4 4.6 .4-3.2 .4-7.5 .4-5 .4 3.7 .4 1.4 .4 2.4 .4 6.8 .4-3.8 .4 10.1 .4-5.6 .4-12.6 .4-.5 .4 10.1 .4-11.6 .4 9.5 .4-11.4 .4 20.1 .4-7.6 .4-5.5 .4-8.8 .4 21.2 .4-14.7 .4 2.2 .4 14.9 .4-22.6 .4 19.4 .4-8.4 .4-7 .4 2.3 .4 13.5 .4-12.5 .4-2.1 .4 2.1 .4-4.6 .4-4.4 .4 1.3 .4 10.9 .4 5.4 .4-9.1 .4-7.4 .4 18.3 .4-8.2 .4 2.1 .4 1.1 .4 6.8 .4-16.6 .4 5.3 .4 11.3 .4-7.3 .4-5.3 .4-9.2 .4 2.3 .4 5.7 .4 3.2 .4-6.3 .4-4.5 .4 10.6 .4-5.4 .4 11.8 .4-19.2 .4 5.4 .4-2 .4 10.4 .4-1.2 .4-3.9 .4 10.5 .4-3.9 .4-8.5 .4 5.4 .4 .7 .4-9.7 .4 15.8 .4-18.5 .4 16.1 .4-10.4 .4 4.6 .4 11.2 .4-12.7 .4-8.4 .4 20.2 .4-18 .4 .4 .4 2.8 .4-8 .4 23.2 .4-8.5 .4 3.8 .4-14 .4 10.9 .4 3 .4 2.6 .4-4.3 .4-8.5 .4 6.5 .4 2.9 .4-.6 .4-9.7 .4-7.4 .4 9.5 .4 2.1 .4-7.5 .4 8.8 .4 5.4 .4-6.7 .4-9.3 .4 11.3 .4-9.4 .4 7.4 .4 3.1 .4-.7 .4-15.5 .4 12.3 .4 1.6 .4 5.1 .4-18.4 .4 11.5 .4 3.9 .4-9.5 .4 11.4 .4-5.2 .4-2.8 .4 .4 .4 8.1 .4-18.9 .4 6.5 .4-1.1 .4 4.6 .4-1.1 .4 5.7 .4-6.4 .4-.2 .4 5.4 .4 .6 .4-0 .4-3.9 .4 2.7 .4-3.1 .4 0 .4-4 .4 7.7 .4-.4 .4-3.2 .4-14.3 .4 2.7 .4 16.3 .4 1.8 .4-12.1 .4 .2 .4 1.6 .4 5.9 .4-9.9 .4 2.8 .4 15.5 .4-4.9 .4-13.6 .4 1 .4 18.2 .4-2.4 .4-5.7 .4-1.8 .4 11.5 .4-12.3 .4 8.4 .4-6.8 .4-6.4 .4 13.3 .4-.3 .4-5.9 .4 4.8 .4-6.4 .4 12.4 .4-15.7 .4-1.1 .4-2.8 .4 17.2 .4-9.7 .4 4 .4-11 .4 16.7 .4-14 .4-2.8 .4 11.1 .4-11.3 .4 13.2 .4-9.2 .4 6 .4 1 .4 11.5 .4-6.2 .4-6.1 .4 3.1 .4-2.1 .4 3.6 .4 1.5 .4-8.8 .4 .8 .4-2.7 .4 11.3 .4 .2 .4-16.5 .4 1.6 .4 7.1 .4 5.4 .4 6.9 .4-7.3 .4-12.3 .4 14 .4 3.2 .4-9.5 .4 11 .4 4.2 .4-3.6 .4-5.4 .4 1.3 .4 1.5 .4-1.5 .4-1.7 .4 2 .4-10 .4 5.9 .4-4.2 .4-4.7 .4 5.6 .4 7.2 .4 4.2 .4-21.3 .4 10.2 .4 3.8 .4 7.4 .4-9.7 .4 .5 .4-4.3 .4 10.9 .4 1.5 .4-11 .4-2.6 .4 13.3 .4-11.4 .4 9.7 .4-15.5 .4 14.9 .4-3.9 .4-8 .4 15.8 .4-16.6 .4 9 .4 2.8 .4-3.7 .4 6.6 .4-7.4 .4 5.7 .4-2.3 .4-2.8 .4-6.7 .4 2 .4 1.6 .4-5.1 .4 .2 .4 2.9 .4 2.3 .4 9.5 .4-.6 .4 5 .4-8.4 .4-3.6 .4-1.9 .4 5 .4 3.9 .4-10.9 .4 9.4 .4-12.8 .4 11.6 .4 2.2 .4-8.9 .4 2 .4 6.5 .4 1.4 .4-4.5 .4 7.2 .4-12.1 .4 3.9 .4-2.1 .4-2.6 .4 6 .4 .4 .4-8.1 .4 4.9 .4-5.2 .4 6.8 .4-1.5 .4 6.9 .4-8.2 .4-5.7 .4 12.2 .4-8.7 .4 .3 .4 .8 .4-6.2 .4 16.4 .4-11 .4-5.3 .4 5.1 .4 4.9 .4 4.1 .4-2.1 .4-10.3 .4 13 .4-1.7 .4 5.9 .4-6.7 .4 3.1 .4-1.6 .4-3.1 .4-1.6 .4-1 .4 8.7 .4-4.4 .4-8.1 .4-1.2 .4 2 .4 1.7 .4 4.3 .4-8.6 .4 5.7 .4 1.8 .4 7.5 .4-1.3 .4 4.3 .4-13.8 .4-.8 .4-4.1 .4 7.6 .4 8.8 .4-6.9 .4 8.5 .4-1.2 .4-11.6 .4 4.8 .4-8.8 .4 11.2 .4 3.5 .4-3 .4 3.1 .4-16.1 .4 6.3 .4 6 .4 4.2 .4-7.6 .4-7.7 .4 20.3 .4-13.8 .4-.3 .4 1.9 .4 10.8 .4-14.9 .4 10.2 .4-7.7 .4 11 .4 1 .4-4.3 .4-5.7 .4 .2 .4 1.2 .4-1 .4 6 .4-5 .4-2.9 .4 4.5 .4-3.7 .4 1.5 .4 5.6 .4-9.3 .4 8.5 .4-13.7 .4-3.3 .4 13.1 .4 2 .4-.4 .4-.5 .4-1.4 .4-10.9 .4-1.5 .4 14.6 .4-8.2 .4 12.8 .4-1.8 .4-16.2 .4 4 .4-1.1 .4 4.4 .4 1.7 .4-10.7 .4 19 .4-7.4 .4 2.3 .4 7.9 .4-6.6 .4-7.1 .4 13.7 .4-6.3 .4-11.3 .4-4.1 .4-.3 .4 11.4 .4-3 .4 3.5 .4-4.7 .4 5 .4 8.1 .4-12.8 .4 4 .4-12.1 .4 24 .4-18.3 .4 2.6 .4 5.6 .4-7.7 .4 10.7 .4-19.8 .4 7.6 .4 6.1 .4-7.7 .4 .5 .4 6.1" stroke="#505050" stroke-width="7"/>
</g></svg>
<g fill="#000" shape-rendering="crispEdges">
<rect x="2077" y="96" width="5" height="1147"/>
<rect x="2067" y="187" width="11" height="6"/>
<rect x="2054" y="279" width="24" height="6"/>
<rect x="2067" y="371" width="11" height="6"/>
<rect x="2054" y="462" width="24" height="6"/>
<rect x="2067" y="554" width="11" height="6"/>
<rect x="2054" y="646" width="24" height="6"/>
<rect x="2067" y="738" width="11" height="6"/>
<rect x="2054" y="829" width="24" height="6"/>
<rect x="2067" y="921" width="11" height="6"/>
<rect x="2054" y="1013" width="24" height="6"/>
<rect x="2067" y="1105" width="11" height="6"/>
<rect x="2054" y="1196" width="24" height="6"/>
</g>
<rect x="1362.5" y="271.5" width="625" height="202" fill="#fff" stroke="#000" stroke-width="1" shape-rendering="crispEdges"/>
<rect x="1372" y="318" width="174" height="13" fill="#ff0000" shape-rendering="crispEdges"/>
<rect x="1372" y="417" width="174" height="7" fill="#505050" shape-rendering="crispEdges"/>
<text class="lg" transform="translate(1564.8 350.3) scale(0.995 0.984)">Transmission</text>
<text class="lg" transform="translate(1564 446.3) scale(0.997 0.984)">Reflection</text>
<text class="tk" transform="translate(225.5 113.3) scale(0.983 1.02)" text-anchor="end">0</text>
<text class="tk" transform="translate(225.5 231.12) scale(0.983 1.02)" text-anchor="end">-2</text>
<text class="tk" transform="translate(225.5 348.94) scale(0.983 1.02)" text-anchor="end">-4</text>
<text class="tk" transform="translate(225.5 466.76) scale(0.983 1.02)" text-anchor="end">-6</text>
<text class="tk" transform="translate(225.5 584.58) scale(0.983 1.02)" text-anchor="end">-8</text>
<text class="tk" transform="translate(225.5 702.41) scale(0.983 1.02)" text-anchor="end">-10</text>
<text class="tk" transform="translate(225.5 820.23) scale(0.983 1.02)" text-anchor="end">-12</text>
<text class="tk" transform="translate(225.5 938.05) scale(0.983 1.02)" text-anchor="end">-14</text>
<text class="tk" transform="translate(225.5 1055.87) scale(0.983 1.02)" text-anchor="end">-16</text>
<text class="tk" transform="translate(225.5 1173.69) scale(0.983 1.02)" text-anchor="end">-18</text>
<text class="tk" transform="translate(2102.5 118.4) scale(0.983 1.02)">-20</text>
<text class="tk" transform="translate(2102.5 302) scale(0.983 1.02)">-30</text>
<text class="tk" transform="translate(2102.5 485.6) scale(0.983 1.02)">-40</text>
<text class="tk" transform="translate(2102.5 669.2) scale(0.983 1.02)">-50</text>
<text class="tk" transform="translate(2102.5 852.8) scale(0.983 1.02)">-60</text>
<text class="tk" transform="translate(2102.5 1036.4) scale(0.983 1.02)">-70</text>
<text class="tk" transform="translate(2102.5 1220) scale(0.983 1.02)">-80</text>
<text class="tk" transform="translate(266.7 1294) scale(0.983 1.02)" text-anchor="middle">1110</text>
<text class="tk" transform="translate(568.78 1294) scale(0.983 1.02)" text-anchor="middle">1120</text>
<text class="tk" transform="translate(870.87 1294) scale(0.983 1.02)" text-anchor="middle">1130</text>
<text class="tk" transform="translate(1172.95 1294) scale(0.983 1.02)" text-anchor="middle">1140</text>
<text class="tk" transform="translate(1475.03 1294) scale(0.983 1.02)" text-anchor="middle">1150</text>
<text class="tk" transform="translate(1777.12 1294) scale(0.983 1.02)" text-anchor="middle">1160</text>
<text class="tk" transform="translate(2079.2 1294) scale(0.983 1.02)" text-anchor="middle">1170</text>
<text class="ttl" x="1173" y="1359.3" text-anchor="middle">Wavelength (nm)</text>
<text class="ttl" transform="translate(130.2 656) rotate(-90) scale(1.0038 1)" text-anchor="middle">Transmission (dB)</text>
<text class="ttl" transform="translate(2265.5 657.2) rotate(-90) scale(1.003 1)" text-anchor="middle">Reflection (dBm)</text>
</svg></body></html>
